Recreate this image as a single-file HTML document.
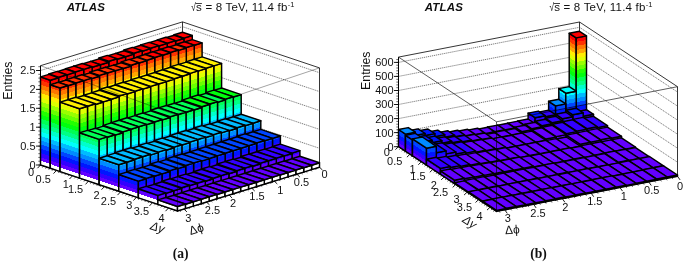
<!DOCTYPE html>
<html><head><meta charset="utf-8"><title>ATLAS lego plots</title>
<style>html,body{margin:0;padding:0;background:#fff}svg{display:block}</style></head>
<body>
<svg width="685" height="262" viewBox="0 0 685 262" font-family="'Liberation Sans', Arial, sans-serif">
<rect width="685" height="262" fill="#fff"/>
<defs><filter id="soft" x="-2%" y="-2%" width="104%" height="104%"><feGaussianBlur stdDeviation="0.45"/></filter></defs>
<g stroke="#111" stroke-width="0.85" fill="none">
<line x1="40.5" y1="65.7" x2="182.5" y2="21.9" />
<line x1="182.5" y1="21.9" x2="319.5" y2="67.9" />
<line x1="182.5" y1="21.9" x2="182.5" y2="121.2" />
<line x1="319.5" y1="67.9" x2="319.5" y2="167.2" />
<line x1="40.5" y1="165.0" x2="182.5" y2="121.2" />
<line x1="182.5" y1="121.2" x2="319.5" y2="167.2" />
</g>
<g stroke="#444" stroke-width="0.7" stroke-dasharray="1.2 0.8" fill="none">
<line x1="40.5" y1="146.1" x2="182.5" y2="102.3" />
<line x1="182.5" y1="102.3" x2="319.5" y2="148.3" />
<line x1="40.5" y1="127.2" x2="182.5" y2="83.4" />
<line x1="182.5" y1="83.4" x2="319.5" y2="129.4" />
<line x1="40.5" y1="108.3" x2="182.5" y2="64.5" />
<line x1="182.5" y1="64.5" x2="319.5" y2="110.5" />
<line x1="40.5" y1="89.4" x2="182.5" y2="45.6" />
<line x1="182.5" y1="45.6" x2="319.5" y2="91.6" />
<line x1="40.5" y1="70.5" x2="182.5" y2="26.7" />
<line x1="182.5" y1="26.7" x2="319.5" y2="72.7" />
</g>
<defs><linearGradient id="lbase" gradientUnits="userSpaceOnUse"><stop offset="0.0000" stop-color="#ffffff"/><stop offset="0.0393" stop-color="#ffffff"/><stop offset="0.0393" stop-color="#6300ff"/><stop offset="0.0719" stop-color="#6300ff"/><stop offset="0.0719" stop-color="#3300ff"/><stop offset="0.1120" stop-color="#3300ff"/><stop offset="0.1120" stop-color="#0014ff"/><stop offset="0.1521" stop-color="#0014ff"/><stop offset="0.1521" stop-color="#0044ff"/><stop offset="0.1921" stop-color="#0044ff"/><stop offset="0.1921" stop-color="#008bff"/><stop offset="0.2322" stop-color="#008bff"/><stop offset="0.2322" stop-color="#00bbff"/><stop offset="0.2723" stop-color="#00bbff"/><stop offset="0.2723" stop-color="#00fffc"/><stop offset="0.3124" stop-color="#00fffc"/><stop offset="0.3124" stop-color="#00ffcc"/><stop offset="0.3524" stop-color="#00ffcc"/><stop offset="0.3524" stop-color="#00ff85"/><stop offset="0.3925" stop-color="#00ff85"/><stop offset="0.3925" stop-color="#00ff55"/><stop offset="0.4326" stop-color="#00ff55"/><stop offset="0.4326" stop-color="#00ff0e"/><stop offset="0.4727" stop-color="#00ff0e"/><stop offset="0.4727" stop-color="#22ff00"/><stop offset="0.5127" stop-color="#22ff00"/><stop offset="0.5127" stop-color="#69ff00"/><stop offset="0.5528" stop-color="#69ff00"/><stop offset="0.5528" stop-color="#99ff00"/><stop offset="0.5929" stop-color="#99ff00"/><stop offset="0.5929" stop-color="#e0ff00"/><stop offset="0.6330" stop-color="#e0ff00"/><stop offset="0.6330" stop-color="#ffee00"/><stop offset="0.6730" stop-color="#ffee00"/><stop offset="0.6730" stop-color="#ffa700"/><stop offset="0.7131" stop-color="#ffa700"/><stop offset="0.7131" stop-color="#ff7700"/><stop offset="0.7532" stop-color="#ff7700"/><stop offset="0.7532" stop-color="#ff3000"/><stop offset="0.7933" stop-color="#ff3000"/><stop offset="0.7933" stop-color="#ff0000"/><stop offset="1.0000" stop-color="#ff0000"/></linearGradient>
<linearGradient id="lb0" href="#lbase" x1="40.50" y1="165.00" x2="72.73" y2="69.02"/>
<linearGradient id="lb1" href="#lbase" x1="48.85" y1="162.42" x2="81.08" y2="66.44"/>
<linearGradient id="lb2" href="#lbase" x1="57.21" y1="159.85" x2="89.43" y2="63.87"/>
<linearGradient id="lb3" href="#lbase" x1="65.56" y1="157.27" x2="97.79" y2="61.29"/>
<linearGradient id="lb4" href="#lbase" x1="73.91" y1="154.69" x2="106.14" y2="58.71"/>
<linearGradient id="lb5" href="#lbase" x1="82.26" y1="152.12" x2="114.49" y2="56.14"/>
<linearGradient id="lb6" href="#lbase" x1="90.62" y1="149.54" x2="122.84" y2="53.56"/>
<linearGradient id="lb7" href="#lbase" x1="98.97" y1="146.96" x2="131.20" y2="50.99"/>
<linearGradient id="lb8" href="#lbase" x1="107.32" y1="144.39" x2="139.55" y2="48.41"/>
<linearGradient id="lb9" href="#lbase" x1="115.68" y1="141.81" x2="147.90" y2="45.83"/>
<linearGradient id="lb10" href="#lbase" x1="124.03" y1="139.24" x2="156.26" y2="43.26"/>
<linearGradient id="lb11" href="#lbase" x1="132.38" y1="136.66" x2="164.61" y2="40.68"/>
<linearGradient id="lb12" href="#lbase" x1="140.74" y1="134.08" x2="172.96" y2="38.10"/>
<linearGradient id="lb13" href="#lbase" x1="149.09" y1="131.51" x2="181.31" y2="35.53"/>
<linearGradient id="lb14" href="#lbase" x1="157.44" y1="128.93" x2="189.67" y2="32.95"/>
<linearGradient id="lb15" href="#lbase" x1="165.79" y1="126.35" x2="198.02" y2="30.37"/>
<linearGradient id="lb16" href="#lbase" x1="174.15" y1="123.78" x2="206.37" y2="27.80"/>
<linearGradient id="lb17" href="#lbase" x1="48.39" y1="162.57" x2="80.62" y2="66.59"/>
<linearGradient id="lb18" href="#lbase" x1="56.28" y1="160.13" x2="88.50" y2="64.15"/>
<linearGradient id="lb19" href="#lbase" x1="64.17" y1="157.70" x2="96.39" y2="61.72"/>
<linearGradient id="lb20" href="#lbase" x1="72.06" y1="155.27" x2="104.28" y2="59.29"/>
<linearGradient id="lb21" href="#lbase" x1="79.94" y1="152.83" x2="112.17" y2="56.85"/>
<linearGradient id="lb22" href="#lbase" x1="87.83" y1="150.40" x2="120.06" y2="54.42"/>
<linearGradient id="lb23" href="#lbase" x1="95.72" y1="147.97" x2="127.95" y2="51.99"/>
<linearGradient id="lb24" href="#lbase" x1="103.61" y1="145.53" x2="135.84" y2="49.55"/>
<linearGradient id="lb25" href="#lbase" x1="111.50" y1="143.10" x2="143.73" y2="47.12"/>
<linearGradient id="lb26" href="#lbase" x1="119.39" y1="140.67" x2="151.62" y2="44.69"/>
<linearGradient id="lb27" href="#lbase" x1="127.28" y1="138.23" x2="159.50" y2="42.25"/>
<linearGradient id="lb28" href="#lbase" x1="135.17" y1="135.80" x2="167.39" y2="39.82"/>
<linearGradient id="lb29" href="#lbase" x1="143.06" y1="133.37" x2="175.28" y2="37.39"/>
<linearGradient id="lb30" href="#lbase" x1="150.94" y1="130.93" x2="183.17" y2="34.95"/>
<linearGradient id="lb31" href="#lbase" x1="158.83" y1="128.50" x2="191.06" y2="32.52"/>
<linearGradient id="lb32" href="#lbase" x1="166.72" y1="126.07" x2="198.95" y2="30.09"/>
<linearGradient id="lb33" href="#lbase" x1="174.61" y1="123.63" x2="206.84" y2="27.65"/>
<linearGradient id="la1" href="#lbase" x1="50.29" y1="168.29" x2="20.21" y2="70.76"/>
<linearGradient id="la2" href="#lbase" x1="60.07" y1="171.57" x2="29.99" y2="74.05"/>
<linearGradient id="la3" href="#lbase" x1="79.64" y1="178.14" x2="49.56" y2="80.62"/>
<linearGradient id="la4" href="#lbase" x1="99.21" y1="184.71" x2="69.13" y2="87.19"/>
<linearGradient id="la5" href="#lbase" x1="118.79" y1="191.29" x2="88.71" y2="93.76"/>
<linearGradient id="la6" href="#lbase" x1="138.36" y1="197.86" x2="108.28" y2="100.34"/>
<linearGradient id="la7" href="#lbase" x1="157.93" y1="204.43" x2="127.85" y2="106.91"/>
<linearGradient id="la8" href="#lbase" x1="177.50" y1="211.00" x2="147.42" y2="113.48"/>
</defs>
<g stroke="#000" stroke-width="1.45" stroke-linejoin="round" filter="url(#soft)">
<polygon fill="url(#lb16)" points="174.1,123.8 183.9,127.1 183.9,38.1 174.1,34.8"/>
<polygon fill="url(#la1)" points="183.9,127.1 192.3,124.5 192.3,35.5 183.9,38.1"/>
<polygon fill="#ff0000" points="174.1,34.8 183.9,38.1 192.3,35.5 182.5,32.2"/>
<polygon fill="url(#lb15)" points="165.8,126.4 175.6,129.6 175.6,41.0 165.8,37.8"/>
<polygon fill="url(#la1)" points="175.6,129.6 183.9,127.1 183.9,38.5 175.6,41.0"/>
<polygon fill="#ff0000" points="165.8,37.8 175.6,41.0 183.9,38.5 174.1,35.2"/>
<polygon fill="url(#lb14)" points="157.4,128.9 167.2,132.2 167.2,43.2 157.4,39.9"/>
<polygon fill="url(#la1)" points="167.2,132.2 175.6,129.6 175.6,40.6 167.2,43.2"/>
<polygon fill="#ff0000" points="157.4,39.9 167.2,43.2 175.6,40.6 165.8,37.3"/>
<polygon fill="url(#lb13)" points="149.1,131.5 158.9,134.8 158.9,46.0 149.1,42.7"/>
<polygon fill="url(#la1)" points="158.9,134.8 167.2,132.2 167.2,43.4 158.9,46.0"/>
<polygon fill="#ff0000" points="149.1,42.7 158.9,46.0 167.2,43.4 157.4,40.1"/>
<polygon fill="url(#lb12)" points="140.7,134.1 150.5,137.4 150.5,48.2 140.7,44.9"/>
<polygon fill="url(#la1)" points="150.5,137.4 158.9,134.8 158.9,45.6 150.5,48.2"/>
<polygon fill="#ff0000" points="140.7,44.9 150.5,48.2 158.9,45.6 149.1,42.4"/>
<polygon fill="url(#lb11)" points="132.4,136.7 142.2,139.9 142.2,51.2 132.4,47.9"/>
<polygon fill="url(#la1)" points="142.2,139.9 150.5,137.4 150.5,48.6 142.2,51.2"/>
<polygon fill="#ff0000" points="132.4,47.9 142.2,51.2 150.5,48.6 140.7,45.3"/>
<polygon fill="url(#lb10)" points="124.0,139.2 133.8,142.5 133.8,53.3 124.0,50.0"/>
<polygon fill="url(#la1)" points="133.8,142.5 142.2,139.9 142.2,50.7 133.8,53.3"/>
<polygon fill="#ff0000" points="124.0,50.0 133.8,53.3 142.2,50.7 132.4,47.4"/>
<polygon fill="url(#lb9)" points="115.7,141.8 125.5,145.1 125.5,56.7 115.7,53.4"/>
<polygon fill="url(#la1)" points="125.5,145.1 133.8,142.5 133.8,54.1 125.5,56.7"/>
<polygon fill="#ff0000" points="115.7,53.4 125.5,56.7 133.8,54.1 124.0,50.8"/>
<polygon fill="url(#lb8)" points="107.3,144.4 117.1,147.7 117.1,59.3 107.3,56.0"/>
<polygon fill="url(#la1)" points="117.1,147.7 125.5,145.1 125.5,56.7 117.1,59.3"/>
<polygon fill="#ff0000" points="107.3,56.0 117.1,59.3 125.5,56.7 115.7,53.4"/>
<polygon fill="url(#lb7)" points="99.0,147.0 108.8,150.3 108.8,61.3 99.0,58.0"/>
<polygon fill="url(#la1)" points="108.8,150.3 117.1,147.7 117.1,58.7 108.8,61.3"/>
<polygon fill="#ff0000" points="99.0,58.0 108.8,61.3 117.1,58.7 107.3,55.4"/>
<polygon fill="url(#lb6)" points="90.6,149.5 100.4,152.8 100.4,64.7 90.6,61.5"/>
<polygon fill="url(#la1)" points="100.4,152.8 108.8,150.3 108.8,62.2 100.4,64.7"/>
<polygon fill="#ff0000" points="90.6,61.5 100.4,64.7 108.8,62.2 99.0,58.9"/>
<polygon fill="url(#lb5)" points="82.3,152.1 92.1,155.4 92.1,67.3 82.3,64.0"/>
<polygon fill="url(#la1)" points="92.1,155.4 100.4,152.8 100.4,64.7 92.1,67.3"/>
<polygon fill="#ff0000" points="82.3,64.0 92.1,67.3 100.4,64.7 90.6,61.4"/>
<polygon fill="url(#lb4)" points="73.9,154.7 83.7,158.0 83.7,69.4 73.9,66.1"/>
<polygon fill="url(#la1)" points="83.7,158.0 92.1,155.4 92.1,66.8 83.7,69.4"/>
<polygon fill="#ff0000" points="73.9,66.1 83.7,69.4 92.1,66.8 82.3,63.5"/>
<polygon fill="url(#lb3)" points="65.6,157.3 75.3,160.6 75.3,72.0 65.6,68.7"/>
<polygon fill="url(#la1)" points="75.3,160.6 83.7,158.0 83.7,69.4 75.3,72.0"/>
<polygon fill="#ff0000" points="65.6,68.7 75.3,72.0 83.7,69.4 73.9,66.1"/>
<polygon fill="url(#lb2)" points="57.2,159.8 67.0,163.1 67.0,74.9 57.2,71.6"/>
<polygon fill="url(#la1)" points="67.0,163.1 75.3,160.6 75.3,72.3 67.0,74.9"/>
<polygon fill="#ff0000" points="57.2,71.6 67.0,74.9 75.3,72.3 65.6,69.0"/>
<polygon fill="url(#lb1)" points="48.9,162.4 58.6,165.7 58.6,77.3 48.9,74.0"/>
<polygon fill="url(#la1)" points="58.6,165.7 67.0,163.1 67.0,74.7 58.6,77.3"/>
<polygon fill="#ff0000" points="48.9,74.0 58.6,77.3 67.0,74.7 57.2,71.4"/>
<polygon fill="url(#lb0)" points="40.5,165.0 50.3,168.3 50.3,80.2 40.5,76.9"/>
<polygon fill="url(#la1)" points="50.3,168.3 58.6,165.7 58.6,77.7 50.3,80.2"/>
<polygon fill="#ff0000" points="40.5,76.9 50.3,80.2 58.6,77.7 48.9,74.4"/>
<polygon fill="url(#lb33)" points="184.4,126.9 194.2,130.2 194.2,45.3 184.4,42.0"/>
<polygon fill="url(#la2)" points="194.2,130.2 202.1,127.8 202.1,42.9 194.2,45.3"/>
<polygon fill="#ff0000" points="184.4,42.0 194.2,45.3 202.1,42.9 192.3,39.6"/>
<polygon fill="url(#lb32)" points="176.5,129.4 186.3,132.6 186.3,47.5 176.5,44.2"/>
<polygon fill="url(#la2)" points="186.3,132.6 194.2,130.2 194.2,45.1 186.3,47.5"/>
<polygon fill="#ff0000" points="176.5,44.2 186.3,47.5 194.2,45.1 184.4,41.8"/>
<polygon fill="url(#lb31)" points="168.6,131.8 178.4,135.1 178.4,50.4 168.6,47.1"/>
<polygon fill="url(#la2)" points="178.4,135.1 186.3,132.6 186.3,48.0 178.4,50.4"/>
<polygon fill="#ff3000" points="168.6,47.1 178.4,50.4 186.3,48.0 176.5,44.7"/>
<polygon fill="url(#lb30)" points="160.7,134.2 170.5,137.5 170.5,52.4 160.7,49.1"/>
<polygon fill="url(#la2)" points="170.5,137.5 178.4,135.1 178.4,50.0 170.5,52.4"/>
<polygon fill="#ff0000" points="160.7,49.1 170.5,52.4 178.4,50.0 168.6,46.7"/>
<polygon fill="url(#lb29)" points="152.8,136.7 162.6,139.9 162.6,55.2 152.8,51.9"/>
<polygon fill="url(#la2)" points="162.6,139.9 170.5,137.5 170.5,52.7 162.6,55.2"/>
<polygon fill="#ff0000" points="152.8,51.9 162.6,55.2 170.5,52.7 160.7,49.5"/>
<polygon fill="url(#lb28)" points="145.0,139.1 154.7,142.4 154.7,57.5 145.0,54.3"/>
<polygon fill="url(#la2)" points="154.7,142.4 162.6,139.9 162.6,55.1 154.7,57.5"/>
<polygon fill="#ff0000" points="145.0,54.3 154.7,57.5 162.6,55.1 152.8,51.8"/>
<polygon fill="url(#lb27)" points="137.1,141.5 146.8,144.8 146.8,60.2 137.1,57.0"/>
<polygon fill="url(#la2)" points="146.8,144.8 154.7,142.4 154.7,57.8 146.8,60.2"/>
<polygon fill="#ff3000" points="137.1,57.0 146.8,60.2 154.7,57.8 145.0,54.5"/>
<polygon fill="url(#lb26)" points="129.2,144.0 139.0,147.2 139.0,63.0 129.2,59.7"/>
<polygon fill="url(#la2)" points="139.0,147.2 146.8,144.8 146.8,60.6 139.0,63.0"/>
<polygon fill="#ff3000" points="129.2,59.7 139.0,63.0 146.8,60.6 137.1,57.3"/>
<polygon fill="url(#lb25)" points="121.3,146.4 131.1,149.7 131.1,65.2 121.3,61.9"/>
<polygon fill="url(#la2)" points="131.1,149.7 139.0,147.2 139.0,62.7 131.1,65.2"/>
<polygon fill="#ff3000" points="121.3,61.9 131.1,65.2 139.0,62.7 129.2,59.4"/>
<polygon fill="url(#lb24)" points="113.4,148.8 123.2,152.1 123.2,68.5 113.4,65.2"/>
<polygon fill="url(#la2)" points="123.2,152.1 131.1,149.7 131.1,66.1 123.2,68.5"/>
<polygon fill="#ff3000" points="113.4,65.2 123.2,68.5 131.1,66.1 121.3,62.8"/>
<polygon fill="url(#lb23)" points="105.5,151.3 115.3,154.5 115.3,70.8 105.5,67.5"/>
<polygon fill="url(#la2)" points="115.3,154.5 123.2,152.1 123.2,68.4 115.3,70.8"/>
<polygon fill="#ff3000" points="105.5,67.5 115.3,70.8 123.2,68.4 113.4,65.1"/>
<polygon fill="url(#lb22)" points="97.6,153.7 107.4,157.0 107.4,73.0 97.6,69.7"/>
<polygon fill="url(#la2)" points="107.4,157.0 115.3,154.5 115.3,70.6 107.4,73.0"/>
<polygon fill="#ff3000" points="97.6,69.7 107.4,73.0 115.3,70.6 105.5,67.3"/>
<polygon fill="url(#lb21)" points="89.7,156.1 99.5,159.4 99.5,75.4 89.7,72.1"/>
<polygon fill="url(#la2)" points="99.5,159.4 107.4,157.0 107.4,73.0 99.5,75.4"/>
<polygon fill="#ff3000" points="89.7,72.1 99.5,75.4 107.4,73.0 97.6,69.7"/>
<polygon fill="url(#lb20)" points="81.8,158.6 91.6,161.8 91.6,78.6 81.8,75.3"/>
<polygon fill="url(#la2)" points="91.6,161.8 99.5,159.4 99.5,76.2 91.6,78.6"/>
<polygon fill="#ff3000" points="81.8,75.3 91.6,78.6 99.5,76.2 89.7,72.9"/>
<polygon fill="url(#lb19)" points="74.0,161.0 83.7,164.3 83.7,80.6 74.0,77.3"/>
<polygon fill="url(#la2)" points="83.7,164.3 91.6,161.8 91.6,78.1 83.7,80.6"/>
<polygon fill="#ff3000" points="74.0,77.3 83.7,80.6 91.6,78.1 81.8,74.8"/>
<polygon fill="url(#lb18)" points="66.1,163.4 75.8,166.7 75.8,83.0 66.1,79.7"/>
<polygon fill="url(#la2)" points="75.8,166.7 83.7,164.3 83.7,80.6 75.8,83.0"/>
<polygon fill="#ff3000" points="66.1,79.7 75.8,83.0 83.7,80.6 74.0,77.3"/>
<polygon fill="url(#lb17)" points="58.2,165.9 68.0,169.1 68.0,85.8 58.2,82.5"/>
<polygon fill="url(#la2)" points="68.0,169.1 75.8,166.7 75.8,83.3 68.0,85.8"/>
<polygon fill="#ff3000" points="58.2,82.5 68.0,85.8 75.8,83.3 66.1,80.0"/>
<polygon fill="url(#lb0)" points="50.3,168.3 60.1,171.6 60.1,88.0 50.3,84.7"/>
<polygon fill="url(#la2)" points="60.1,171.6 68.0,169.1 68.0,85.5 60.1,88.0"/>
<polygon fill="#ff3000" points="50.3,84.7 60.1,88.0 68.0,85.5 58.2,82.2"/>
<polygon fill="url(#lb33)" points="194.2,130.2 213.8,136.8 213.8,65.9 194.2,59.3"/>
<polygon fill="url(#la3)" points="213.8,136.8 221.6,134.3 221.6,63.4 213.8,65.9"/>
<polygon fill="#ffee00" points="194.2,59.3 213.8,65.9 221.6,63.4 202.1,56.9"/>
<polygon fill="url(#lb32)" points="186.3,132.6 205.9,139.2 205.9,68.3 186.3,61.7"/>
<polygon fill="url(#la3)" points="205.9,139.2 213.8,136.8 213.8,65.9 205.9,68.3"/>
<polygon fill="#ffee00" points="186.3,61.7 205.9,68.3 213.8,65.9 194.2,59.3"/>
<polygon fill="url(#lb31)" points="178.4,135.1 198.0,141.6 198.0,71.1 178.4,64.5"/>
<polygon fill="url(#la3)" points="198.0,141.6 205.9,139.2 205.9,68.6 198.0,71.1"/>
<polygon fill="#ffee00" points="178.4,64.5 198.0,71.1 205.9,68.6 186.3,62.1"/>
<polygon fill="url(#lb30)" points="170.5,137.5 190.1,144.1 190.1,73.4 170.5,66.8"/>
<polygon fill="url(#la3)" points="190.1,144.1 198.0,141.6 198.0,70.9 190.1,73.4"/>
<polygon fill="#ffee00" points="170.5,66.8 190.1,73.4 198.0,70.9 178.4,64.4"/>
<polygon fill="url(#lb29)" points="162.6,139.9 182.2,146.5 182.2,76.2 162.6,69.7"/>
<polygon fill="url(#la3)" points="182.2,146.5 190.1,144.1 190.1,73.8 182.2,76.2"/>
<polygon fill="#ffee00" points="162.6,69.7 182.2,76.2 190.1,73.8 170.5,67.2"/>
<polygon fill="url(#lb28)" points="154.7,142.4 174.3,148.9 174.3,78.7 154.7,72.2"/>
<polygon fill="url(#la3)" points="174.3,148.9 182.2,146.5 182.2,76.3 174.3,78.7"/>
<polygon fill="#ffee00" points="154.7,72.2 174.3,78.7 182.2,76.3 162.6,69.7"/>
<polygon fill="url(#lb27)" points="146.8,144.8 166.4,151.4 166.4,81.5 146.8,74.9"/>
<polygon fill="url(#la3)" points="166.4,151.4 174.3,148.9 174.3,79.1 166.4,81.5"/>
<polygon fill="#ffee00" points="146.8,74.9 166.4,81.5 174.3,79.1 154.7,72.5"/>
<polygon fill="url(#lb26)" points="139.0,147.2 158.5,153.8 158.5,84.0 139.0,77.4"/>
<polygon fill="url(#la3)" points="158.5,153.8 166.4,151.4 166.4,81.6 158.5,84.0"/>
<polygon fill="#ffee00" points="139.0,77.4 158.5,84.0 166.4,81.6 146.8,75.0"/>
<polygon fill="url(#lb25)" points="131.1,149.7 150.6,156.2 150.6,86.4 131.1,79.8"/>
<polygon fill="url(#la3)" points="150.6,156.2 158.5,153.8 158.5,84.0 150.6,86.4"/>
<polygon fill="#ffee00" points="131.1,79.8 150.6,86.4 158.5,84.0 139.0,77.4"/>
<polygon fill="url(#lb24)" points="123.2,152.1 142.8,158.7 142.8,89.1 123.2,82.5"/>
<polygon fill="url(#la3)" points="142.8,158.7 150.6,156.2 150.6,86.7 142.8,89.1"/>
<polygon fill="#ffee00" points="123.2,82.5 142.8,89.1 150.6,86.7 131.1,80.1"/>
<polygon fill="url(#lb23)" points="115.3,154.5 134.9,161.1 134.9,91.3 115.3,84.7"/>
<polygon fill="url(#la3)" points="134.9,161.1 142.8,158.7 142.8,88.9 134.9,91.3"/>
<polygon fill="#ffee00" points="115.3,84.7 134.9,91.3 142.8,88.9 123.2,82.3"/>
<polygon fill="url(#lb22)" points="107.4,157.0 127.0,163.5 127.0,94.0 107.4,87.5"/>
<polygon fill="url(#la3)" points="127.0,163.5 134.9,161.1 134.9,91.6 127.0,94.0"/>
<polygon fill="#ffee00" points="107.4,87.5 127.0,94.0 134.9,91.6 115.3,85.0"/>
<polygon fill="url(#lb21)" points="99.5,159.4 119.1,166.0 119.1,96.0 99.5,89.5"/>
<polygon fill="url(#la3)" points="119.1,166.0 127.0,163.5 127.0,93.6 119.1,96.0"/>
<polygon fill="#ffee00" points="99.5,89.5 119.1,96.0 127.0,93.6 107.4,87.0"/>
<polygon fill="url(#lb20)" points="91.6,161.8 111.2,168.4 111.2,99.3 91.6,92.7"/>
<polygon fill="url(#la3)" points="111.2,168.4 119.1,166.0 119.1,96.9 111.2,99.3"/>
<polygon fill="#ffee00" points="91.6,92.7 111.2,99.3 119.1,96.9 99.5,90.3"/>
<polygon fill="url(#lb19)" points="83.7,164.3 103.3,170.8 103.3,101.9 83.7,95.3"/>
<polygon fill="url(#la3)" points="103.3,170.8 111.2,168.4 111.2,99.5 103.3,101.9"/>
<polygon fill="#ffee00" points="83.7,95.3 103.3,101.9 111.2,99.5 91.6,92.9"/>
<polygon fill="url(#lb18)" points="75.8,166.7 95.4,173.3 95.4,104.5 75.8,97.9"/>
<polygon fill="url(#la3)" points="95.4,173.3 103.3,170.8 103.3,102.0 95.4,104.5"/>
<polygon fill="#ffee00" points="75.8,97.9 95.4,104.5 103.3,102.0 83.7,95.5"/>
<polygon fill="url(#lb17)" points="68.0,169.1 87.5,175.7 87.5,106.2 68.0,99.6"/>
<polygon fill="url(#la3)" points="87.5,175.7 95.4,173.3 95.4,103.8 87.5,106.2"/>
<polygon fill="#ffee00" points="68.0,99.6 87.5,106.2 95.4,103.8 75.8,97.2"/>
<polygon fill="url(#lb0)" points="60.1,171.6 79.6,178.1 79.6,108.7 60.1,102.1"/>
<polygon fill="url(#la3)" points="79.6,178.1 87.5,175.7 87.5,106.2 79.6,108.7"/>
<polygon fill="#ffee00" points="60.1,102.1 79.6,108.7 87.5,106.2 68.0,99.7"/>
<polygon fill="url(#lb33)" points="213.8,136.8 233.3,143.3 233.3,97.0 213.8,90.4"/>
<polygon fill="url(#la4)" points="233.3,143.3 241.2,140.9 241.2,94.6 233.3,97.0"/>
<polygon fill="#00ff0e" points="213.8,90.4 233.3,97.0 241.2,94.6 221.6,88.0"/>
<polygon fill="url(#lb32)" points="205.9,139.2 225.4,145.8 225.4,99.1 205.9,92.6"/>
<polygon fill="url(#la4)" points="225.4,145.8 233.3,143.3 233.3,96.7 225.4,99.1"/>
<polygon fill="#00ff0e" points="205.9,92.6 225.4,99.1 233.3,96.7 213.8,90.1"/>
<polygon fill="url(#lb31)" points="198.0,141.6 217.5,148.2 217.5,102.4 198.0,95.8"/>
<polygon fill="url(#la4)" points="217.5,148.2 225.4,145.8 225.4,99.9 217.5,102.4"/>
<polygon fill="#00ff55" points="198.0,95.8 217.5,102.4 225.4,99.9 205.9,93.4"/>
<polygon fill="url(#lb30)" points="190.1,144.1 209.7,150.6 209.7,104.0 190.1,97.4"/>
<polygon fill="url(#la4)" points="209.7,150.6 217.5,148.2 217.5,101.6 209.7,104.0"/>
<polygon fill="#00ff0e" points="190.1,97.4 209.7,104.0 217.5,101.6 198.0,95.0"/>
<polygon fill="url(#lb29)" points="182.2,146.5 201.8,153.1 201.8,106.7 182.2,100.1"/>
<polygon fill="url(#la4)" points="201.8,153.1 209.7,150.6 209.7,104.2 201.8,106.7"/>
<polygon fill="#00ff0e" points="182.2,100.1 201.8,106.7 209.7,104.2 190.1,97.6"/>
<polygon fill="url(#lb28)" points="174.3,148.9 193.9,155.5 193.9,110.0 174.3,103.4"/>
<polygon fill="url(#la4)" points="193.9,155.5 201.8,153.1 201.8,107.5 193.9,110.0"/>
<polygon fill="#00ff55" points="174.3,103.4 193.9,110.0 201.8,107.5 182.2,101.0"/>
<polygon fill="url(#lb27)" points="166.4,151.4 186.0,157.9 186.0,112.3 166.4,105.7"/>
<polygon fill="url(#la4)" points="186.0,157.9 193.9,155.5 193.9,109.8 186.0,112.3"/>
<polygon fill="#00ff55" points="166.4,105.7 186.0,112.3 193.9,109.8 174.3,103.3"/>
<polygon fill="url(#lb26)" points="158.5,153.8 178.1,160.4 178.1,114.5 158.5,107.9"/>
<polygon fill="url(#la4)" points="178.1,160.4 186.0,157.9 186.0,112.1 178.1,114.5"/>
<polygon fill="#00ff55" points="158.5,107.9 178.1,114.5 186.0,112.1 166.4,105.5"/>
<polygon fill="url(#lb25)" points="150.6,156.2 170.2,162.8 170.2,116.8 150.6,110.2"/>
<polygon fill="url(#la4)" points="170.2,162.8 178.1,160.4 178.1,114.4 170.2,116.8"/>
<polygon fill="#00ff55" points="150.6,110.2 170.2,116.8 178.1,114.4 158.5,107.8"/>
<polygon fill="url(#lb24)" points="142.8,158.7 162.3,165.2 162.3,119.9 142.8,113.4"/>
<polygon fill="url(#la4)" points="162.3,165.2 170.2,162.8 170.2,117.5 162.3,119.9"/>
<polygon fill="#00ff55" points="142.8,113.4 162.3,119.9 170.2,117.5 150.6,110.9"/>
<polygon fill="url(#lb23)" points="134.9,161.1 154.4,167.7 154.4,122.0 134.9,115.4"/>
<polygon fill="url(#la4)" points="154.4,167.7 162.3,165.2 162.3,119.5 154.4,122.0"/>
<polygon fill="#00ff55" points="134.9,115.4 154.4,122.0 162.3,119.5 142.8,113.0"/>
<polygon fill="url(#lb22)" points="127.0,163.5 146.5,170.1 146.5,124.6 127.0,118.1"/>
<polygon fill="url(#la4)" points="146.5,170.1 154.4,167.7 154.4,122.2 146.5,124.6"/>
<polygon fill="#00ff55" points="127.0,118.1 146.5,124.6 154.4,122.2 134.9,115.6"/>
<polygon fill="url(#lb21)" points="119.1,166.0 138.7,172.5 138.7,126.8 119.1,120.3"/>
<polygon fill="url(#la4)" points="138.7,172.5 146.5,170.1 146.5,124.4 138.7,126.8"/>
<polygon fill="#00ff55" points="119.1,120.3 138.7,126.8 146.5,124.4 127.0,117.8"/>
<polygon fill="url(#lb20)" points="111.2,168.4 130.8,175.0 130.8,129.3 111.2,122.7"/>
<polygon fill="url(#la4)" points="130.8,175.0 138.7,172.5 138.7,126.9 130.8,129.3"/>
<polygon fill="#00ff55" points="111.2,122.7 130.8,129.3 138.7,126.9 119.1,120.3"/>
<polygon fill="url(#lb19)" points="103.3,170.8 122.9,177.4 122.9,131.9 103.3,125.4"/>
<polygon fill="url(#la4)" points="122.9,177.4 130.8,175.0 130.8,129.5 122.9,131.9"/>
<polygon fill="#00ff55" points="103.3,125.4 122.9,131.9 130.8,129.5 111.2,122.9"/>
<polygon fill="url(#lb18)" points="95.4,173.3 115.0,179.8 115.0,135.1 95.4,128.6"/>
<polygon fill="url(#la4)" points="115.0,179.8 122.9,177.4 122.9,132.7 115.0,135.1"/>
<polygon fill="#00ff55" points="95.4,128.6 115.0,135.1 122.9,132.7 103.3,126.1"/>
<polygon fill="url(#lb17)" points="87.5,175.7 107.1,182.3 107.1,137.2 87.5,130.6"/>
<polygon fill="url(#la4)" points="107.1,182.3 115.0,179.8 115.0,134.7 107.1,137.2"/>
<polygon fill="#00ff55" points="87.5,130.6 107.1,137.2 115.0,134.7 95.4,128.2"/>
<polygon fill="url(#lb0)" points="79.6,178.1 99.2,184.7 99.2,139.4 79.6,132.8"/>
<polygon fill="url(#la4)" points="99.2,184.7 107.1,182.3 107.1,136.9 99.2,139.4"/>
<polygon fill="#00ff55" points="79.6,132.8 99.2,139.4 107.1,136.9 87.5,130.4"/>
<polygon fill="url(#lb33)" points="233.3,143.3 252.9,149.9 252.9,123.2 233.3,116.7"/>
<polygon fill="url(#la5)" points="252.9,149.9 260.8,147.5 260.8,120.8 252.9,123.2"/>
<polygon fill="#00bbff" points="233.3,116.7 252.9,123.2 260.8,120.8 241.2,114.2"/>
<polygon fill="url(#lb32)" points="225.4,145.8 245.0,152.4 245.0,125.8 225.4,119.3"/>
<polygon fill="url(#la5)" points="245.0,152.4 252.9,149.9 252.9,123.4 245.0,125.8"/>
<polygon fill="#00bbff" points="225.4,119.3 245.0,125.8 252.9,123.4 233.3,116.8"/>
<polygon fill="url(#lb31)" points="217.5,148.2 237.1,154.8 237.1,127.7 217.5,121.1"/>
<polygon fill="url(#la5)" points="237.1,154.8 245.0,152.4 245.0,125.3 237.1,127.7"/>
<polygon fill="#00bbff" points="217.5,121.1 237.1,127.7 245.0,125.3 225.4,118.7"/>
<polygon fill="url(#lb30)" points="209.7,150.6 229.2,157.2 229.2,130.7 209.7,124.1"/>
<polygon fill="url(#la5)" points="229.2,157.2 237.1,154.8 237.1,128.2 229.2,130.7"/>
<polygon fill="#00bbff" points="209.7,124.1 229.2,130.7 237.1,128.2 217.5,121.7"/>
<polygon fill="url(#lb29)" points="201.8,153.1 221.3,159.7 221.3,132.9 201.8,126.3"/>
<polygon fill="url(#la5)" points="221.3,159.7 229.2,157.2 229.2,130.4 221.3,132.9"/>
<polygon fill="#00bbff" points="201.8,126.3 221.3,132.9 229.2,130.4 209.7,123.9"/>
<polygon fill="url(#lb28)" points="193.9,155.5 213.5,162.1 213.5,134.6 193.9,128.0"/>
<polygon fill="url(#la5)" points="213.5,162.1 221.3,159.7 221.3,132.2 213.5,134.6"/>
<polygon fill="#00bbff" points="193.9,128.0 213.5,134.6 221.3,132.2 201.8,125.6"/>
<polygon fill="url(#lb27)" points="186.0,157.9 205.6,164.5 205.6,137.5 186.0,131.0"/>
<polygon fill="url(#la5)" points="205.6,164.5 213.5,162.1 213.5,135.1 205.6,137.5"/>
<polygon fill="#00bbff" points="186.0,131.0 205.6,137.5 213.5,135.1 193.9,128.5"/>
<polygon fill="url(#lb26)" points="178.1,160.4 197.7,167.0 197.7,139.5 178.1,132.9"/>
<polygon fill="url(#la5)" points="197.7,167.0 205.6,164.5 205.6,137.1 197.7,139.5"/>
<polygon fill="#00bbff" points="178.1,132.9 197.7,139.5 205.6,137.1 186.0,130.5"/>
<polygon fill="url(#lb25)" points="170.2,162.8 189.8,169.4 189.8,142.1 170.2,135.5"/>
<polygon fill="url(#la5)" points="189.8,169.4 197.7,167.0 197.7,139.6 189.8,142.1"/>
<polygon fill="#00bbff" points="170.2,135.5 189.8,142.1 197.7,139.6 178.1,133.0"/>
<polygon fill="url(#lb24)" points="162.3,165.2 181.9,171.8 181.9,145.0 162.3,138.5"/>
<polygon fill="url(#la5)" points="181.9,171.8 189.8,169.4 189.8,142.6 181.9,145.0"/>
<polygon fill="#00bbff" points="162.3,138.5 181.9,145.0 189.8,142.6 170.2,136.0"/>
<polygon fill="url(#lb23)" points="154.4,167.7 174.0,174.3 174.0,147.1 154.4,140.5"/>
<polygon fill="url(#la5)" points="174.0,174.3 181.9,171.8 181.9,144.7 174.0,147.1"/>
<polygon fill="#00bbff" points="154.4,140.5 174.0,147.1 181.9,144.7 162.3,138.1"/>
<polygon fill="url(#lb22)" points="146.5,170.1 166.1,176.7 166.1,150.2 146.5,143.6"/>
<polygon fill="url(#la5)" points="166.1,176.7 174.0,174.3 174.0,147.8 166.1,150.2"/>
<polygon fill="#00bbff" points="146.5,143.6 166.1,150.2 174.0,147.8 154.4,141.2"/>
<polygon fill="url(#lb21)" points="138.7,172.5 158.2,179.1 158.2,152.1 138.7,145.5"/>
<polygon fill="url(#la5)" points="158.2,179.1 166.1,176.7 166.1,149.6 158.2,152.1"/>
<polygon fill="#00bbff" points="138.7,145.5 158.2,152.1 166.1,149.6 146.5,143.1"/>
<polygon fill="url(#lb20)" points="130.8,175.0 150.3,181.6 150.3,155.1 130.8,148.5"/>
<polygon fill="url(#la5)" points="150.3,181.6 158.2,179.1 158.2,152.6 150.3,155.1"/>
<polygon fill="#00bbff" points="130.8,148.5 150.3,155.1 158.2,152.6 138.7,146.1"/>
<polygon fill="url(#lb19)" points="122.9,177.4 142.5,184.0 142.5,156.7 122.9,150.1"/>
<polygon fill="url(#la5)" points="142.5,184.0 150.3,181.6 150.3,154.3 142.5,156.7"/>
<polygon fill="#00bbff" points="122.9,150.1 142.5,156.7 150.3,154.3 130.8,147.7"/>
<polygon fill="url(#lb18)" points="115.0,179.8 134.6,186.4 134.6,159.2 115.0,152.7"/>
<polygon fill="url(#la5)" points="134.6,186.4 142.5,184.0 142.5,156.8 134.6,159.2"/>
<polygon fill="#00bbff" points="115.0,152.7 134.6,159.2 142.5,156.8 122.9,150.2"/>
<polygon fill="url(#lb17)" points="107.1,182.3 126.7,188.9 126.7,162.2 107.1,155.6"/>
<polygon fill="url(#la5)" points="126.7,188.9 134.6,186.4 134.6,159.7 126.7,162.2"/>
<polygon fill="#00bbff" points="107.1,155.6 126.7,162.2 134.6,159.7 115.0,153.1"/>
<polygon fill="url(#lb0)" points="99.2,184.7 118.8,191.3 118.8,164.7 99.2,158.2"/>
<polygon fill="url(#la5)" points="118.8,191.3 126.7,188.9 126.7,162.3 118.8,164.7"/>
<polygon fill="#00bbff" points="99.2,158.2 118.8,164.7 126.7,162.3 107.1,155.7"/>
<polygon fill="url(#lb33)" points="252.9,149.9 272.5,156.5 272.5,138.4 252.9,131.8"/>
<polygon fill="url(#la6)" points="272.5,156.5 280.4,154.1 280.4,136.0 272.5,138.4"/>
<polygon fill="#0044ff" points="252.9,131.8 272.5,138.4 280.4,136.0 260.8,129.4"/>
<polygon fill="url(#lb32)" points="245.0,152.4 264.6,158.9 264.6,140.8 245.0,134.3"/>
<polygon fill="url(#la6)" points="264.6,158.9 272.5,156.5 272.5,138.4 264.6,140.8"/>
<polygon fill="#0044ff" points="245.0,134.3 264.6,140.8 272.5,138.4 252.9,131.8"/>
<polygon fill="url(#lb31)" points="237.1,154.8 256.7,161.4 256.7,142.9 237.1,136.3"/>
<polygon fill="url(#la6)" points="256.7,161.4 264.6,158.9 264.6,140.5 256.7,142.9"/>
<polygon fill="#0044ff" points="237.1,136.3 256.7,142.9 264.6,140.5 245.0,133.9"/>
<polygon fill="url(#lb30)" points="229.2,157.2 248.8,163.8 248.8,145.7 229.2,139.2"/>
<polygon fill="url(#la6)" points="248.8,163.8 256.7,161.4 256.7,143.3 248.8,145.7"/>
<polygon fill="#0044ff" points="229.2,139.2 248.8,145.7 256.7,143.3 237.1,136.7"/>
<polygon fill="url(#lb29)" points="221.3,159.7 240.9,166.2 240.9,148.3 221.3,141.7"/>
<polygon fill="url(#la6)" points="240.9,166.2 248.8,163.8 248.8,145.9 240.9,148.3"/>
<polygon fill="#0044ff" points="221.3,141.7 240.9,148.3 248.8,145.9 229.2,139.3"/>
<polygon fill="url(#lb28)" points="213.5,162.1 233.0,168.7 233.0,150.8 213.5,144.2"/>
<polygon fill="url(#la6)" points="233.0,168.7 240.9,166.2 240.9,148.4 233.0,150.8"/>
<polygon fill="#0044ff" points="213.5,144.2 233.0,150.8 240.9,148.4 221.3,141.8"/>
<polygon fill="url(#lb27)" points="205.6,164.5 225.1,171.1 225.1,153.3 205.6,146.7"/>
<polygon fill="url(#la6)" points="225.1,171.1 233.0,168.7 233.0,150.8 225.1,153.3"/>
<polygon fill="#0044ff" points="205.6,146.7 225.1,153.3 233.0,150.8 213.5,144.2"/>
<polygon fill="url(#lb26)" points="197.7,167.0 217.2,173.5 217.2,155.9 197.7,149.3"/>
<polygon fill="url(#la6)" points="217.2,173.5 225.1,171.1 225.1,153.5 217.2,155.9"/>
<polygon fill="#0044ff" points="197.7,149.3 217.2,155.9 225.1,153.5 205.6,146.9"/>
<polygon fill="url(#lb25)" points="189.8,169.4 209.4,176.0 209.4,158.5 189.8,151.9"/>
<polygon fill="url(#la6)" points="209.4,176.0 217.2,173.5 217.2,156.0 209.4,158.5"/>
<polygon fill="#0044ff" points="189.8,151.9 209.4,158.5 217.2,156.0 197.7,149.5"/>
<polygon fill="url(#lb24)" points="181.9,171.8 201.5,178.4 201.5,161.1 181.9,154.5"/>
<polygon fill="url(#la6)" points="201.5,178.4 209.4,176.0 209.4,158.6 201.5,161.1"/>
<polygon fill="#0044ff" points="181.9,154.5 201.5,161.1 209.4,158.6 189.8,152.0"/>
<polygon fill="url(#lb23)" points="174.0,174.3 193.6,180.8 193.6,163.0 174.0,156.5"/>
<polygon fill="url(#la6)" points="193.6,180.8 201.5,178.4 201.5,160.6 193.6,163.0"/>
<polygon fill="#0044ff" points="174.0,156.5 193.6,163.0 201.5,160.6 181.9,154.0"/>
<polygon fill="url(#lb22)" points="166.1,176.7 185.7,183.3 185.7,165.5 166.1,158.9"/>
<polygon fill="url(#la6)" points="185.7,183.3 193.6,180.8 193.6,163.1 185.7,165.5"/>
<polygon fill="#0044ff" points="166.1,158.9 185.7,165.5 193.6,163.1 174.0,156.5"/>
<polygon fill="url(#lb21)" points="158.2,179.1 177.8,185.7 177.8,168.6 158.2,162.1"/>
<polygon fill="url(#la6)" points="177.8,185.7 185.7,183.3 185.7,166.2 177.8,168.6"/>
<polygon fill="#0044ff" points="158.2,162.1 177.8,168.6 185.7,166.2 166.1,159.6"/>
<polygon fill="url(#lb20)" points="150.3,181.6 169.9,188.1 169.9,170.6 150.3,164.0"/>
<polygon fill="url(#la6)" points="169.9,188.1 177.8,185.7 177.8,168.2 169.9,170.6"/>
<polygon fill="#0044ff" points="150.3,164.0 169.9,170.6 177.8,168.2 158.2,161.6"/>
<polygon fill="url(#lb19)" points="142.5,184.0 162.0,190.6 162.0,173.9 142.5,167.4"/>
<polygon fill="url(#la6)" points="162.0,190.6 169.9,188.1 169.9,171.5 162.0,173.9"/>
<polygon fill="#0044ff" points="142.5,167.4 162.0,173.9 169.9,171.5 150.3,164.9"/>
<polygon fill="url(#lb18)" points="134.6,186.4 154.1,193.0 154.1,176.3 134.6,169.8"/>
<polygon fill="url(#la6)" points="154.1,193.0 162.0,190.6 162.0,173.9 154.1,176.3"/>
<polygon fill="#0044ff" points="134.6,169.8 154.1,176.3 162.0,173.9 142.5,167.3"/>
<polygon fill="url(#lb17)" points="126.7,188.9 146.2,195.4 146.2,178.4 126.7,171.8"/>
<polygon fill="url(#la6)" points="146.2,195.4 154.1,193.0 154.1,176.0 146.2,178.4"/>
<polygon fill="#0044ff" points="126.7,171.8 146.2,178.4 154.1,176.0 134.6,169.4"/>
<polygon fill="url(#lb0)" points="118.8,191.3 138.4,197.9 138.4,181.1 118.8,174.5"/>
<polygon fill="url(#la6)" points="138.4,197.9 146.2,195.4 146.2,178.7 138.4,181.1"/>
<polygon fill="#0044ff" points="118.8,174.5 138.4,181.1 146.2,178.7 126.7,172.1"/>
<polygon fill="url(#lb33)" points="272.5,156.5 292.0,163.1 292.0,153.1 272.5,146.5"/>
<polygon fill="url(#la7)" points="292.0,163.1 299.9,160.6 299.9,150.6 292.0,153.1"/>
<polygon fill="#3300ff" points="272.5,146.5 292.0,153.1 299.9,150.6 280.4,144.1"/>
<polygon fill="url(#lb32)" points="264.6,158.9 284.2,165.5 284.2,155.9 264.6,149.4"/>
<polygon fill="url(#la7)" points="284.2,165.5 292.0,163.1 292.0,153.5 284.2,155.9"/>
<polygon fill="#3300ff" points="264.6,149.4 284.2,155.9 292.0,153.5 272.5,146.9"/>
<polygon fill="url(#lb31)" points="256.7,161.4 276.3,167.9 276.3,158.1 256.7,151.5"/>
<polygon fill="url(#la7)" points="276.3,167.9 284.2,165.5 284.2,155.7 276.3,158.1"/>
<polygon fill="#3300ff" points="256.7,151.5 276.3,158.1 284.2,155.7 264.6,149.1"/>
<polygon fill="url(#lb30)" points="248.8,163.8 268.4,170.4 268.4,160.8 248.8,154.2"/>
<polygon fill="url(#la7)" points="268.4,170.4 276.3,167.9 276.3,158.4 268.4,160.8"/>
<polygon fill="#3300ff" points="248.8,154.2 268.4,160.8 276.3,158.4 256.7,151.8"/>
<polygon fill="url(#lb29)" points="240.9,166.2 260.5,172.8 260.5,163.1 240.9,156.5"/>
<polygon fill="url(#la7)" points="260.5,172.8 268.4,170.4 268.4,160.7 260.5,163.1"/>
<polygon fill="#3300ff" points="240.9,156.5 260.5,163.1 268.4,160.7 248.8,154.1"/>
<polygon fill="url(#lb28)" points="233.0,168.7 252.6,175.2 252.6,166.2 233.0,159.6"/>
<polygon fill="url(#la7)" points="252.6,175.2 260.5,172.8 260.5,163.7 252.6,166.2"/>
<polygon fill="#3300ff" points="233.0,159.6 252.6,166.2 260.5,163.7 240.9,157.2"/>
<polygon fill="url(#lb27)" points="225.1,171.1 244.7,177.7 244.7,168.1 225.1,161.5"/>
<polygon fill="url(#la7)" points="244.7,177.7 252.6,175.2 252.6,165.7 244.7,168.1"/>
<polygon fill="#3300ff" points="225.1,161.5 244.7,168.1 252.6,165.7 233.0,159.1"/>
<polygon fill="url(#lb26)" points="217.2,173.5 236.8,180.1 236.8,170.6 217.2,164.0"/>
<polygon fill="url(#la7)" points="236.8,180.1 244.7,177.7 244.7,168.2 236.8,170.6"/>
<polygon fill="#3300ff" points="217.2,164.0 236.8,170.6 244.7,168.2 225.1,161.6"/>
<polygon fill="url(#lb25)" points="209.4,176.0 228.9,182.5 228.9,173.7 209.4,167.1"/>
<polygon fill="url(#la7)" points="228.9,182.5 236.8,180.1 236.8,171.2 228.9,173.7"/>
<polygon fill="#3300ff" points="209.4,167.1 228.9,173.7 236.8,171.2 217.2,164.7"/>
<polygon fill="url(#lb24)" points="201.5,178.4 221.0,185.0 221.0,175.6 201.5,169.0"/>
<polygon fill="url(#la7)" points="221.0,185.0 228.9,182.5 228.9,173.2 221.0,175.6"/>
<polygon fill="#3300ff" points="201.5,169.0 221.0,175.6 228.9,173.2 209.4,166.6"/>
<polygon fill="url(#lb23)" points="193.6,180.8 213.2,187.4 213.2,178.3 193.6,171.7"/>
<polygon fill="url(#la7)" points="213.2,187.4 221.0,185.0 221.0,175.8 213.2,178.3"/>
<polygon fill="#3300ff" points="193.6,171.7 213.2,178.3 221.0,175.8 201.5,169.3"/>
<polygon fill="url(#lb22)" points="185.7,183.3 205.3,189.8 205.3,181.2 185.7,174.6"/>
<polygon fill="url(#la7)" points="205.3,189.8 213.2,187.4 213.2,178.7 205.3,181.2"/>
<polygon fill="#3300ff" points="185.7,174.6 205.3,181.2 213.2,178.7 193.6,172.2"/>
<polygon fill="url(#lb21)" points="177.8,185.7 197.4,192.3 197.4,183.1 177.8,176.5"/>
<polygon fill="url(#la7)" points="197.4,192.3 205.3,189.8 205.3,180.7 197.4,183.1"/>
<polygon fill="#3300ff" points="177.8,176.5 197.4,183.1 205.3,180.7 185.7,174.1"/>
<polygon fill="url(#lb20)" points="169.9,188.1 189.5,194.7 189.5,185.6 169.9,179.1"/>
<polygon fill="url(#la7)" points="189.5,194.7 197.4,192.3 197.4,183.2 189.5,185.6"/>
<polygon fill="#3300ff" points="169.9,179.1 189.5,185.6 197.4,183.2 177.8,176.6"/>
<polygon fill="url(#lb19)" points="162.0,190.6 181.6,197.1 181.6,187.7 162.0,181.1"/>
<polygon fill="url(#la7)" points="181.6,197.1 189.5,194.7 189.5,185.2 181.6,187.7"/>
<polygon fill="#3300ff" points="162.0,181.1 181.6,187.7 189.5,185.2 169.9,178.7"/>
<polygon fill="url(#lb18)" points="154.1,193.0 173.7,199.6 173.7,190.8 154.1,184.3"/>
<polygon fill="url(#la7)" points="173.7,199.6 181.6,197.1 181.6,188.4 173.7,190.8"/>
<polygon fill="#3300ff" points="154.1,184.3 173.7,190.8 181.6,188.4 162.0,181.8"/>
<polygon fill="url(#lb17)" points="146.2,195.4 165.8,202.0 165.8,193.4 146.2,186.8"/>
<polygon fill="url(#la7)" points="165.8,202.0 173.7,199.6 173.7,190.9 165.8,193.4"/>
<polygon fill="#3300ff" points="146.2,186.8 165.8,193.4 173.7,190.9 154.1,184.4"/>
<polygon fill="url(#lb0)" points="138.4,197.9 157.9,204.4 157.9,195.4 138.4,188.8"/>
<polygon fill="url(#la7)" points="157.9,204.4 165.8,202.0 165.8,192.9 157.9,195.4"/>
<polygon fill="#3300ff" points="138.4,188.8 157.9,195.4 165.8,192.9 146.2,186.4"/>
<polygon fill="url(#lb33)" points="292.0,163.1 311.6,169.6 311.6,165.2 292.0,158.6"/>
<polygon fill="url(#la8)" points="311.6,169.6 319.5,167.2 319.5,162.7 311.6,165.2"/>
<polygon fill="#6300ff" points="292.0,158.6 311.6,165.2 319.5,162.7 299.9,156.2"/>
<polygon fill="url(#lb32)" points="284.2,165.5 303.7,172.1 303.7,167.8 284.2,161.2"/>
<polygon fill="url(#la8)" points="303.7,172.1 311.6,169.6 311.6,165.3 303.7,167.8"/>
<polygon fill="#6300ff" points="284.2,161.2 303.7,167.8 311.6,165.3 292.0,158.8"/>
<polygon fill="url(#lb31)" points="276.3,167.9 295.8,174.5 295.8,170.0 276.3,163.4"/>
<polygon fill="url(#la8)" points="295.8,174.5 303.7,172.1 303.7,167.5 295.8,170.0"/>
<polygon fill="#6300ff" points="276.3,163.4 295.8,170.0 303.7,167.5 284.2,161.0"/>
<polygon fill="url(#lb30)" points="268.4,170.4 287.9,176.9 287.9,172.5 268.4,165.9"/>
<polygon fill="url(#la8)" points="287.9,176.9 295.8,174.5 295.8,170.1 287.9,172.5"/>
<polygon fill="#6300ff" points="268.4,165.9 287.9,172.5 295.8,170.1 276.3,163.5"/>
<polygon fill="url(#lb29)" points="260.5,172.8 280.1,179.4 280.1,175.0 260.5,168.4"/>
<polygon fill="url(#la8)" points="280.1,179.4 287.9,176.9 287.9,172.5 280.1,175.0"/>
<polygon fill="#6300ff" points="260.5,168.4 280.1,175.0 287.9,172.5 268.4,166.0"/>
<polygon fill="url(#lb28)" points="252.6,175.2 272.2,181.8 272.2,177.3 252.6,170.7"/>
<polygon fill="url(#la8)" points="272.2,181.8 280.1,179.4 280.1,174.9 272.2,177.3"/>
<polygon fill="#6300ff" points="252.6,170.7 272.2,177.3 280.1,174.9 260.5,168.3"/>
<polygon fill="url(#lb27)" points="244.7,177.7 264.3,184.2 264.3,179.8 244.7,173.3"/>
<polygon fill="url(#la8)" points="264.3,184.2 272.2,181.8 272.2,177.4 264.3,179.8"/>
<polygon fill="#6300ff" points="244.7,173.3 264.3,179.8 272.2,177.4 252.6,170.8"/>
<polygon fill="url(#lb26)" points="236.8,180.1 256.4,186.7 256.4,182.3 236.8,175.7"/>
<polygon fill="url(#la8)" points="256.4,186.7 264.3,184.2 264.3,179.8 256.4,182.3"/>
<polygon fill="#6300ff" points="236.8,175.7 256.4,182.3 264.3,179.8 244.7,173.3"/>
<polygon fill="url(#lb25)" points="228.9,182.5 248.5,189.1 248.5,184.7 228.9,178.1"/>
<polygon fill="url(#la8)" points="248.5,189.1 256.4,186.7 256.4,182.3 248.5,184.7"/>
<polygon fill="#6300ff" points="228.9,178.1 248.5,184.7 256.4,182.3 236.8,175.7"/>
<polygon fill="url(#lb24)" points="221.0,185.0 240.6,191.5 240.6,187.1 221.0,180.6"/>
<polygon fill="url(#la8)" points="240.6,191.5 248.5,189.1 248.5,184.7 240.6,187.1"/>
<polygon fill="#6300ff" points="221.0,180.6 240.6,187.1 248.5,184.7 228.9,178.1"/>
<polygon fill="url(#lb23)" points="213.2,187.4 232.7,194.0 232.7,189.5 213.2,182.9"/>
<polygon fill="url(#la8)" points="232.7,194.0 240.6,191.5 240.6,187.1 232.7,189.5"/>
<polygon fill="#6300ff" points="213.2,182.9 232.7,189.5 240.6,187.1 221.0,180.5"/>
<polygon fill="url(#lb22)" points="205.3,189.8 224.8,196.4 224.8,192.0 205.3,185.4"/>
<polygon fill="url(#la8)" points="224.8,196.4 232.7,194.0 232.7,189.5 224.8,192.0"/>
<polygon fill="#6300ff" points="205.3,185.4 224.8,192.0 232.7,189.5 213.2,183.0"/>
<polygon fill="url(#lb21)" points="197.4,192.3 216.9,198.8 216.9,194.5 197.4,187.9"/>
<polygon fill="url(#la8)" points="216.9,198.8 224.8,196.4 224.8,192.0 216.9,194.5"/>
<polygon fill="#6300ff" points="197.4,187.9 216.9,194.5 224.8,192.0 205.3,185.5"/>
<polygon fill="url(#lb20)" points="189.5,194.7 209.1,201.3 209.1,196.7 189.5,190.1"/>
<polygon fill="url(#la8)" points="209.1,201.3 216.9,198.8 216.9,194.2 209.1,196.7"/>
<polygon fill="#6300ff" points="189.5,190.1 209.1,196.7 216.9,194.2 197.4,187.7"/>
<polygon fill="url(#lb19)" points="181.6,197.1 201.2,203.7 201.2,199.2 181.6,192.6"/>
<polygon fill="url(#la8)" points="201.2,203.7 209.1,201.3 209.1,196.8 201.2,199.2"/>
<polygon fill="#6300ff" points="181.6,192.6 201.2,199.2 209.1,196.8 189.5,190.2"/>
<polygon fill="url(#lb18)" points="173.7,199.6 193.3,206.1 193.3,201.8 173.7,195.2"/>
<polygon fill="url(#la8)" points="193.3,206.1 201.2,203.7 201.2,199.4 193.3,201.8"/>
<polygon fill="#6300ff" points="173.7,195.2 193.3,201.8 201.2,199.4 181.6,192.8"/>
<polygon fill="url(#lb17)" points="165.8,202.0 185.4,208.6 185.4,204.3 165.8,197.7"/>
<polygon fill="url(#la8)" points="185.4,208.6 193.3,206.1 193.3,201.8 185.4,204.3"/>
<polygon fill="#6300ff" points="165.8,197.7 185.4,204.3 193.3,201.8 173.7,195.3"/>
<polygon fill="url(#lb0)" points="157.9,204.4 177.5,211.0 177.5,206.5 157.9,199.9"/>
<polygon fill="url(#la8)" points="177.5,211.0 185.4,208.6 185.4,204.0 177.5,206.5"/>
<polygon fill="#6300ff" points="157.9,199.9 177.5,206.5 185.4,204.0 165.8,197.5"/>
</g>
<g stroke="#000" stroke-width="0.8" stroke-opacity="0.45" fill="none">
<line x1="40.5" y1="65.7" x2="177.5" y2="115.5" />
<line x1="177.5" y1="115.5" x2="319.5" y2="67.9" />
<line x1="177.5" y1="115.5" x2="177.5" y2="211.0" />
</g>
<g stroke="#000" stroke-width="1.0" fill="none">
<line x1="40.5" y1="165.0" x2="40.5" y2="65.7" />
<line x1="40.5" y1="165.0" x2="177.5" y2="211.0" stroke-width="0.5"/>
<line x1="177.5" y1="211.0" x2="319.5" y2="167.2" stroke-width="0.5"/>
<line x1="40.5" y1="165.0" x2="38.3" y2="165.0" stroke-width="0.6"/>
<line x1="40.5" y1="161.2" x2="38.3" y2="161.2" stroke-width="0.6"/>
<line x1="40.5" y1="157.4" x2="38.3" y2="157.4" stroke-width="0.6"/>
<line x1="40.5" y1="153.7" x2="38.3" y2="153.7" stroke-width="0.6"/>
<line x1="40.5" y1="149.9" x2="38.3" y2="149.9" stroke-width="0.6"/>
<line x1="40.5" y1="146.1" x2="38.3" y2="146.1" stroke-width="0.6"/>
<line x1="40.5" y1="142.3" x2="38.3" y2="142.3" stroke-width="0.6"/>
<line x1="40.5" y1="138.5" x2="38.3" y2="138.5" stroke-width="0.6"/>
<line x1="40.5" y1="134.8" x2="38.3" y2="134.8" stroke-width="0.6"/>
<line x1="40.5" y1="131.0" x2="38.3" y2="131.0" stroke-width="0.6"/>
<line x1="40.5" y1="127.2" x2="38.3" y2="127.2" stroke-width="0.6"/>
<line x1="40.5" y1="123.4" x2="38.3" y2="123.4" stroke-width="0.6"/>
<line x1="40.5" y1="119.6" x2="38.3" y2="119.6" stroke-width="0.6"/>
<line x1="40.5" y1="115.9" x2="38.3" y2="115.9" stroke-width="0.6"/>
<line x1="40.5" y1="112.1" x2="38.3" y2="112.1" stroke-width="0.6"/>
<line x1="40.5" y1="108.3" x2="38.3" y2="108.3" stroke-width="0.6"/>
<line x1="40.5" y1="104.5" x2="38.3" y2="104.5" stroke-width="0.6"/>
<line x1="40.5" y1="100.7" x2="38.3" y2="100.7" stroke-width="0.6"/>
<line x1="40.5" y1="97.0" x2="38.3" y2="97.0" stroke-width="0.6"/>
<line x1="40.5" y1="93.2" x2="38.3" y2="93.2" stroke-width="0.6"/>
<line x1="40.5" y1="89.4" x2="38.3" y2="89.4" stroke-width="0.6"/>
<line x1="40.5" y1="85.6" x2="38.3" y2="85.6" stroke-width="0.6"/>
<line x1="40.5" y1="81.8" x2="38.3" y2="81.8" stroke-width="0.6"/>
<line x1="40.5" y1="78.1" x2="38.3" y2="78.1" stroke-width="0.6"/>
<line x1="40.5" y1="74.3" x2="38.3" y2="74.3" stroke-width="0.6"/>
<line x1="40.5" y1="70.5" x2="38.3" y2="70.5" stroke-width="0.6"/>
<line x1="40.5" y1="66.7" x2="38.3" y2="66.7" stroke-width="0.6"/>
<line x1="40.5" y1="165.0" x2="36.0" y2="165.0" stroke-width="0.9"/>
<line x1="40.5" y1="146.1" x2="36.0" y2="146.1" stroke-width="0.9"/>
<line x1="40.5" y1="127.2" x2="36.0" y2="127.2" stroke-width="0.9"/>
<line x1="40.5" y1="108.3" x2="36.0" y2="108.3" stroke-width="0.9"/>
<line x1="40.5" y1="89.4" x2="36.0" y2="89.4" stroke-width="0.9"/>
<line x1="40.5" y1="70.5" x2="36.0" y2="70.5" stroke-width="0.9"/>
<line x1="40.5" y1="165.0" x2="37.5" y2="168.2" stroke-width="0.9"/>
<line x1="43.7" y1="166.1" x2="42.3" y2="167.6" stroke-width="0.6"/>
<line x1="46.9" y1="167.1" x2="45.5" y2="168.7" stroke-width="0.6"/>
<line x1="50.1" y1="168.2" x2="48.7" y2="169.8" stroke-width="0.6"/>
<line x1="53.3" y1="169.3" x2="51.9" y2="170.8" stroke-width="0.6"/>
<line x1="56.5" y1="170.4" x2="53.5" y2="173.6" stroke-width="0.9"/>
<line x1="59.7" y1="171.4" x2="58.3" y2="173.0" stroke-width="0.6"/>
<line x1="62.9" y1="172.5" x2="61.5" y2="174.1" stroke-width="0.6"/>
<line x1="66.1" y1="173.6" x2="64.7" y2="175.1" stroke-width="0.6"/>
<line x1="69.3" y1="174.7" x2="67.9" y2="176.2" stroke-width="0.6"/>
<line x1="72.5" y1="175.7" x2="69.5" y2="179.0" stroke-width="0.9"/>
<line x1="75.7" y1="176.8" x2="74.3" y2="178.4" stroke-width="0.6"/>
<line x1="78.9" y1="177.9" x2="77.5" y2="179.4" stroke-width="0.6"/>
<line x1="82.1" y1="179.0" x2="80.7" y2="180.5" stroke-width="0.6"/>
<line x1="85.3" y1="180.0" x2="83.9" y2="181.6" stroke-width="0.6"/>
<line x1="88.5" y1="181.1" x2="85.5" y2="184.4" stroke-width="0.9"/>
<line x1="91.7" y1="182.2" x2="90.3" y2="183.7" stroke-width="0.6"/>
<line x1="94.9" y1="183.3" x2="93.5" y2="184.8" stroke-width="0.6"/>
<line x1="98.1" y1="184.3" x2="96.7" y2="185.9" stroke-width="0.6"/>
<line x1="101.3" y1="185.4" x2="99.9" y2="187.0" stroke-width="0.6"/>
<line x1="104.5" y1="186.5" x2="101.5" y2="189.7" stroke-width="0.9"/>
<line x1="107.7" y1="187.6" x2="106.3" y2="189.1" stroke-width="0.6"/>
<line x1="110.9" y1="188.6" x2="109.5" y2="190.2" stroke-width="0.6"/>
<line x1="114.1" y1="189.7" x2="112.7" y2="191.3" stroke-width="0.6"/>
<line x1="117.3" y1="190.8" x2="115.9" y2="192.3" stroke-width="0.6"/>
<line x1="120.5" y1="191.9" x2="117.5" y2="195.1" stroke-width="0.9"/>
<line x1="123.7" y1="192.9" x2="122.3" y2="194.5" stroke-width="0.6"/>
<line x1="126.9" y1="194.0" x2="125.5" y2="195.6" stroke-width="0.6"/>
<line x1="130.1" y1="195.1" x2="128.7" y2="196.6" stroke-width="0.6"/>
<line x1="133.3" y1="196.2" x2="131.9" y2="197.7" stroke-width="0.6"/>
<line x1="136.5" y1="197.2" x2="133.5" y2="200.5" stroke-width="0.9"/>
<line x1="139.7" y1="198.3" x2="138.3" y2="199.9" stroke-width="0.6"/>
<line x1="142.9" y1="199.4" x2="141.5" y2="200.9" stroke-width="0.6"/>
<line x1="146.1" y1="200.5" x2="144.7" y2="202.0" stroke-width="0.6"/>
<line x1="149.3" y1="201.5" x2="147.9" y2="203.1" stroke-width="0.6"/>
<line x1="152.5" y1="202.6" x2="149.5" y2="205.9" stroke-width="0.9"/>
<line x1="155.7" y1="203.7" x2="154.3" y2="205.2" stroke-width="0.6"/>
<line x1="158.9" y1="204.8" x2="157.5" y2="206.3" stroke-width="0.6"/>
<line x1="162.1" y1="205.8" x2="160.7" y2="207.4" stroke-width="0.6"/>
<line x1="165.3" y1="206.9" x2="163.9" y2="208.5" stroke-width="0.6"/>
<line x1="168.5" y1="208.0" x2="165.5" y2="211.2" stroke-width="0.9"/>
<line x1="171.7" y1="209.1" x2="170.3" y2="210.6" stroke-width="0.6"/>
<line x1="174.9" y1="210.1" x2="173.5" y2="211.7" stroke-width="0.6"/>
<line x1="319.5" y1="167.2" x2="322.5" y2="170.1" stroke-width="0.9"/>
<line x1="315.0" y1="168.6" x2="316.4" y2="170.0" stroke-width="0.6"/>
<line x1="310.5" y1="170.0" x2="311.9" y2="171.4" stroke-width="0.6"/>
<line x1="305.9" y1="171.4" x2="307.4" y2="172.8" stroke-width="0.6"/>
<line x1="301.4" y1="172.8" x2="302.8" y2="174.2" stroke-width="0.6"/>
<line x1="296.9" y1="174.2" x2="299.9" y2="177.1" stroke-width="0.9"/>
<line x1="292.4" y1="175.6" x2="293.8" y2="176.9" stroke-width="0.6"/>
<line x1="287.9" y1="177.0" x2="289.3" y2="178.3" stroke-width="0.6"/>
<line x1="283.3" y1="178.4" x2="284.8" y2="179.7" stroke-width="0.6"/>
<line x1="278.8" y1="179.7" x2="280.2" y2="181.1" stroke-width="0.6"/>
<line x1="274.3" y1="181.1" x2="277.3" y2="184.0" stroke-width="0.9"/>
<line x1="269.8" y1="182.5" x2="271.2" y2="183.9" stroke-width="0.6"/>
<line x1="265.3" y1="183.9" x2="266.7" y2="185.3" stroke-width="0.6"/>
<line x1="260.7" y1="185.3" x2="262.2" y2="186.7" stroke-width="0.6"/>
<line x1="256.2" y1="186.7" x2="257.6" y2="188.1" stroke-width="0.6"/>
<line x1="251.7" y1="188.1" x2="254.7" y2="191.0" stroke-width="0.9"/>
<line x1="247.2" y1="189.5" x2="248.6" y2="190.9" stroke-width="0.6"/>
<line x1="242.7" y1="190.9" x2="244.1" y2="192.3" stroke-width="0.6"/>
<line x1="238.1" y1="192.3" x2="239.6" y2="193.7" stroke-width="0.6"/>
<line x1="233.6" y1="193.7" x2="235.0" y2="195.1" stroke-width="0.6"/>
<line x1="229.1" y1="195.1" x2="232.1" y2="198.0" stroke-width="0.9"/>
<line x1="224.6" y1="196.5" x2="226.0" y2="197.9" stroke-width="0.6"/>
<line x1="220.1" y1="197.9" x2="221.5" y2="199.2" stroke-width="0.6"/>
<line x1="215.5" y1="199.3" x2="217.0" y2="200.6" stroke-width="0.6"/>
<line x1="211.0" y1="200.7" x2="212.4" y2="202.0" stroke-width="0.6"/>
<line x1="206.5" y1="202.1" x2="209.5" y2="204.9" stroke-width="0.9"/>
<line x1="202.0" y1="203.4" x2="203.4" y2="204.8" stroke-width="0.6"/>
<line x1="197.5" y1="204.8" x2="198.9" y2="206.2" stroke-width="0.6"/>
<line x1="192.9" y1="206.2" x2="194.4" y2="207.6" stroke-width="0.6"/>
<line x1="188.4" y1="207.6" x2="189.8" y2="209.0" stroke-width="0.6"/>
<line x1="183.9" y1="209.0" x2="186.9" y2="211.9" stroke-width="0.9"/>
<line x1="179.4" y1="210.4" x2="180.8" y2="211.8" stroke-width="0.6"/>
</g>
<g font-size="11" fill="#111">
<text x="35.5" y="168.9" text-anchor="end">0</text>
<text x="35.5" y="150.0" text-anchor="end">0.5</text>
<text x="35.5" y="131.1" text-anchor="end">1</text>
<text x="35.5" y="112.2" text-anchor="end">1.5</text>
<text x="35.5" y="93.3" text-anchor="end">2</text>
<text x="35.5" y="74.4" text-anchor="end">2.5</text>
<text x="34.2" y="175.5" text-anchor="end">0</text>
<text x="50.9" y="182.8" text-anchor="end">0.5</text>
<text x="68.9" y="187.8" text-anchor="end">1</text>
<text x="83.2" y="192.6" text-anchor="end">1.5</text>
<text x="99.7" y="198.9" text-anchor="end">2</text>
<text x="116.1" y="205.2" text-anchor="end">2.5</text>
<text x="132.4" y="208.9" text-anchor="end">3</text>
<text x="149.0" y="215.2" text-anchor="end">3.5</text>
<text x="164.6" y="221.5" text-anchor="end">4</text>
<text x="188.4" y="221.5" text-anchor="middle">3</text>
<text x="212.5" y="214.1" text-anchor="middle">2.5</text>
<text x="233.1" y="207.1" text-anchor="middle">2</text>
<text x="257.0" y="200.1" text-anchor="middle">1.5</text>
<text x="280.3" y="193.5" text-anchor="middle">1</text>
<text x="301.5" y="186.2" text-anchor="middle">0.5</text>
<text x="324.5" y="178.2" text-anchor="middle">0</text>
</g>
<g stroke="#111" stroke-width="0.85" fill="none">
<line x1="398.5" y1="57.1" x2="579.5" y2="22.0" />
<line x1="579.5" y1="22.0" x2="677.5" y2="86.7" />
<line x1="579.5" y1="22.0" x2="579.5" y2="111.6" />
<line x1="677.5" y1="86.7" x2="677.5" y2="176.3" />
<line x1="398.5" y1="146.7" x2="579.5" y2="111.6" />
<line x1="579.5" y1="111.6" x2="677.5" y2="176.3" />
</g>
<g stroke="#444" stroke-width="0.7" stroke-dasharray="1.2 0.8" fill="none">
<line x1="398.5" y1="132.6" x2="579.5" y2="97.5" />
<line x1="579.5" y1="97.5" x2="677.5" y2="162.2" />
<line x1="398.5" y1="118.6" x2="579.5" y2="83.5" />
<line x1="579.5" y1="83.5" x2="677.5" y2="148.2" />
<line x1="398.5" y1="104.5" x2="579.5" y2="69.4" />
<line x1="579.5" y1="69.4" x2="677.5" y2="134.2" />
<line x1="398.5" y1="90.5" x2="579.5" y2="55.4" />
<line x1="579.5" y1="55.4" x2="677.5" y2="120.1" />
<line x1="398.5" y1="76.4" x2="579.5" y2="41.3" />
<line x1="579.5" y1="41.3" x2="677.5" y2="106.1" />
<line x1="398.5" y1="62.4" x2="579.5" y2="27.3" />
<line x1="579.5" y1="27.3" x2="677.5" y2="92.0" />
</g>
<defs><linearGradient id="rbase" gradientUnits="userSpaceOnUse"><stop offset="0.0000" stop-color="#6300ff"/><stop offset="0.0417" stop-color="#6300ff"/><stop offset="0.0417" stop-color="#3300ff"/><stop offset="0.0833" stop-color="#3300ff"/><stop offset="0.0833" stop-color="#0014ff"/><stop offset="0.1250" stop-color="#0014ff"/><stop offset="0.1250" stop-color="#0044ff"/><stop offset="0.1667" stop-color="#0044ff"/><stop offset="0.1667" stop-color="#008bff"/><stop offset="0.2083" stop-color="#008bff"/><stop offset="0.2083" stop-color="#00bbff"/><stop offset="0.2500" stop-color="#00bbff"/><stop offset="0.2500" stop-color="#00fffc"/><stop offset="0.2917" stop-color="#00fffc"/><stop offset="0.2917" stop-color="#00ffcc"/><stop offset="0.3333" stop-color="#00ffcc"/><stop offset="0.3333" stop-color="#00ff85"/><stop offset="0.3750" stop-color="#00ff85"/><stop offset="0.3750" stop-color="#00ff55"/><stop offset="0.4167" stop-color="#00ff55"/><stop offset="0.4167" stop-color="#00ff0e"/><stop offset="0.4583" stop-color="#00ff0e"/><stop offset="0.4583" stop-color="#22ff00"/><stop offset="0.5000" stop-color="#22ff00"/><stop offset="0.5000" stop-color="#69ff00"/><stop offset="0.5417" stop-color="#69ff00"/><stop offset="0.5417" stop-color="#99ff00"/><stop offset="0.5833" stop-color="#99ff00"/><stop offset="0.5833" stop-color="#e0ff00"/><stop offset="0.6250" stop-color="#e0ff00"/><stop offset="0.6250" stop-color="#ffee00"/><stop offset="0.6667" stop-color="#ffee00"/><stop offset="0.6667" stop-color="#ffa700"/><stop offset="0.7083" stop-color="#ffa700"/><stop offset="0.7083" stop-color="#ff7700"/><stop offset="0.7500" stop-color="#ff7700"/><stop offset="0.7500" stop-color="#ff3000"/><stop offset="0.7917" stop-color="#ff3000"/><stop offset="0.7917" stop-color="#ff0000"/><stop offset="1.0000" stop-color="#ff0000"/></linearGradient>
<linearGradient id="rb0" href="#rbase" x1="398.50" y1="146.70" x2="442.81" y2="79.59"/>
<linearGradient id="rb1" href="#rbase" x1="408.27" y1="144.81" x2="452.58" y2="77.70"/>
<linearGradient id="rb2" href="#rbase" x1="418.07" y1="142.90" x2="462.38" y2="75.80"/>
<linearGradient id="rb3" href="#rbase" x1="427.91" y1="141.00" x2="472.21" y2="73.89"/>
<linearGradient id="rb4" href="#rbase" x1="437.78" y1="139.08" x2="482.08" y2="71.97"/>
<linearGradient id="rb5" href="#rbase" x1="447.68" y1="137.16" x2="491.99" y2="70.05"/>
<linearGradient id="rb6" href="#rbase" x1="457.61" y1="135.24" x2="501.92" y2="68.13"/>
<linearGradient id="rb7" href="#rbase" x1="467.58" y1="133.30" x2="511.89" y2="66.19"/>
<linearGradient id="rb8" href="#rbase" x1="477.59" y1="131.36" x2="521.89" y2="64.25"/>
<linearGradient id="rb9" href="#rbase" x1="487.62" y1="129.42" x2="531.93" y2="62.31"/>
<linearGradient id="rb10" href="#rbase" x1="497.69" y1="127.46" x2="542.00" y2="60.36"/>
<linearGradient id="rb11" href="#rbase" x1="507.80" y1="125.50" x2="552.10" y2="58.40"/>
<linearGradient id="rb12" href="#rbase" x1="517.94" y1="123.54" x2="562.24" y2="56.43"/>
<linearGradient id="rb13" href="#rbase" x1="528.11" y1="121.57" x2="572.41" y2="54.46"/>
<linearGradient id="rb14" href="#rbase" x1="538.32" y1="119.59" x2="582.62" y2="52.48"/>
<linearGradient id="rb15" href="#rbase" x1="548.56" y1="117.60" x2="592.87" y2="50.49"/>
<linearGradient id="rb16" href="#rbase" x1="558.84" y1="115.61" x2="603.14" y2="48.50"/>
<linearGradient id="rb17" href="#rbase" x1="569.15" y1="113.61" x2="613.46" y2="46.50"/>
<linearGradient id="ra1" href="#rbase" x1="405.50" y1="151.32" x2="387.49" y2="58.45"/>
<linearGradient id="ra2" href="#rbase" x1="412.50" y1="155.94" x2="394.49" y2="63.08"/>
<linearGradient id="ra3" href="#rbase" x1="426.50" y1="165.19" x2="408.49" y2="72.32"/>
<linearGradient id="ra4" href="#rbase" x1="440.50" y1="174.43" x2="422.49" y2="81.56"/>
<linearGradient id="ra5" href="#rbase" x1="454.50" y1="183.67" x2="436.49" y2="90.80"/>
<linearGradient id="ra6" href="#rbase" x1="468.50" y1="192.91" x2="450.49" y2="100.05"/>
<linearGradient id="ra7" href="#rbase" x1="482.50" y1="202.16" x2="464.49" y2="109.29"/>
<linearGradient id="ra8" href="#rbase" x1="496.50" y1="211.40" x2="478.49" y2="118.53"/>
</defs>
<g stroke="#000" stroke-width="1.45" stroke-linejoin="round" filter="url(#soft)">
<polygon fill="url(#rb17)" points="569.2,113.6 576.2,118.2 576.2,37.9 569.2,33.3"/>
<polygon fill="url(#ra1)" points="576.2,118.2 586.5,116.2 586.5,35.9 576.2,37.9"/>
<polygon fill="#ff0000" points="569.2,33.3 576.2,37.9 586.5,35.9 579.5,31.3"/>
<polygon fill="url(#rb16)" points="558.8,115.6 565.8,120.2 565.8,93.2 558.8,88.6"/>
<polygon fill="url(#ra1)" points="565.8,120.2 576.2,118.2 576.2,91.2 565.8,93.2"/>
<polygon fill="#00fffc" points="558.8,88.6 565.8,93.2 576.2,91.2 569.2,86.6"/>
<polygon fill="url(#rb15)" points="548.6,117.6 555.6,122.2 555.6,105.9 548.6,101.3"/>
<polygon fill="url(#ra1)" points="555.6,122.2 565.8,120.2 565.8,103.9 555.6,105.9"/>
<polygon fill="#008bff" points="548.6,101.3 555.6,105.9 565.8,103.9 558.8,99.3"/>
<polygon fill="url(#rb14)" points="538.3,119.6 545.3,124.2 545.3,116.7 538.3,112.1"/>
<polygon fill="url(#ra1)" points="545.3,124.2 555.6,122.2 555.6,114.7 545.3,116.7"/>
<polygon fill="#3300ff" points="538.3,112.1 545.3,116.7 555.6,114.7 548.6,110.1"/>
<polygon fill="url(#rb13)" points="528.1,121.6 535.1,126.2 535.1,117.7 528.1,113.1"/>
<polygon fill="url(#ra1)" points="535.1,126.2 545.3,124.2 545.3,115.7 535.1,117.7"/>
<polygon fill="#0014ff" points="528.1,113.1 535.1,117.7 545.3,115.7 538.3,111.1"/>
<polygon fill="url(#rb12)" points="517.9,123.5 524.9,128.2 524.9,125.6 517.9,120.9"/>
<polygon fill="url(#ra1)" points="524.9,128.2 535.1,126.2 535.1,123.6 524.9,125.6"/>
<polygon fill="#6300ff" points="517.9,120.9 524.9,125.6 535.1,123.6 528.1,119.0"/>
<polygon fill="url(#rb11)" points="507.8,125.5 514.8,130.1 514.8,127.7 507.8,123.1"/>
<polygon fill="url(#ra1)" points="514.8,130.1 524.9,128.2 524.9,125.8 514.8,127.7"/>
<polygon fill="#6300ff" points="507.8,123.1 514.8,127.7 524.9,125.8 517.9,121.1"/>
<polygon fill="url(#rb10)" points="497.7,127.5 504.7,132.1 504.7,129.9 497.7,125.3"/>
<polygon fill="url(#ra1)" points="504.7,132.1 514.8,130.1 514.8,127.9 504.7,129.9"/>
<polygon fill="#6300ff" points="497.7,125.3 504.7,129.9 514.8,127.9 507.8,123.3"/>
<polygon fill="url(#rb9)" points="487.6,129.4 494.6,134.0 494.6,131.6 487.6,127.0"/>
<polygon fill="url(#ra1)" points="494.6,134.0 504.7,132.1 504.7,129.7 494.6,131.6"/>
<polygon fill="#6300ff" points="487.6,127.0 494.6,131.6 504.7,129.7 497.7,125.1"/>
<polygon fill="url(#rb8)" points="477.6,131.4 484.6,136.0 484.6,133.8 477.6,129.2"/>
<polygon fill="url(#ra1)" points="484.6,136.0 494.6,134.0 494.6,131.8 484.6,133.8"/>
<polygon fill="#6300ff" points="477.6,129.2 484.6,133.8 494.6,131.8 487.6,127.2"/>
<polygon fill="url(#rb7)" points="467.6,133.3 474.6,137.9 474.6,134.7 467.6,130.1"/>
<polygon fill="url(#ra1)" points="474.6,137.9 484.6,136.0 484.6,132.8 474.6,134.7"/>
<polygon fill="#6300ff" points="467.6,130.1 474.6,134.7 484.6,132.8 477.6,128.2"/>
<polygon fill="url(#rb6)" points="457.6,135.2 464.6,139.9 464.6,135.9 457.6,131.2"/>
<polygon fill="url(#ra1)" points="464.6,139.9 474.6,137.9 474.6,133.9 464.6,135.9"/>
<polygon fill="#6300ff" points="457.6,131.2 464.6,135.9 474.6,133.9 467.6,129.3"/>
<polygon fill="url(#rb5)" points="447.7,137.2 454.7,141.8 454.7,136.8 447.7,132.2"/>
<polygon fill="url(#ra1)" points="454.7,141.8 464.6,139.9 464.6,134.9 454.7,136.8"/>
<polygon fill="#3300ff" points="447.7,132.2 454.7,136.8 464.6,134.9 457.6,130.2"/>
<polygon fill="url(#rb4)" points="437.8,139.1 444.8,143.7 444.8,137.2 437.8,132.6"/>
<polygon fill="url(#ra1)" points="444.8,143.7 454.7,141.8 454.7,135.3 444.8,137.2"/>
<polygon fill="#3300ff" points="437.8,132.6 444.8,137.2 454.7,135.3 447.7,130.7"/>
<polygon fill="url(#rb3)" points="427.9,141.0 434.9,145.6 434.9,136.6 427.9,132.0"/>
<polygon fill="url(#ra1)" points="434.9,145.6 444.8,143.7 444.8,134.7 434.9,136.6"/>
<polygon fill="#0014ff" points="427.9,132.0 434.9,136.6 444.8,134.7 437.8,130.1"/>
<polygon fill="url(#rb2)" points="418.1,142.9 425.1,147.5 425.1,135.5 418.1,130.9"/>
<polygon fill="url(#ra1)" points="425.1,147.5 434.9,145.6 434.9,133.6 425.1,135.5"/>
<polygon fill="#0014ff" points="418.1,130.9 425.1,135.5 434.9,133.6 427.9,129.0"/>
<polygon fill="url(#rb1)" points="408.3,144.8 415.3,149.4 415.3,135.4 408.3,130.8"/>
<polygon fill="url(#ra1)" points="415.3,149.4 425.1,147.5 425.1,133.5 415.3,135.4"/>
<polygon fill="#0044ff" points="408.3,130.8 415.3,135.4 425.1,133.5 418.1,128.9"/>
<polygon fill="url(#rb0)" points="398.5,146.7 405.5,151.3 405.5,134.1 398.5,129.5"/>
<polygon fill="url(#ra1)" points="405.5,151.3 415.3,149.4 415.3,132.2 405.5,134.1"/>
<polygon fill="#008bff" points="398.5,129.5 405.5,134.1 415.3,132.2 408.3,127.6"/>
<polygon fill="url(#rb17)" points="576.2,118.2 583.2,122.8 583.2,116.3 576.2,111.7"/>
<polygon fill="url(#ra2)" points="583.2,122.8 593.5,120.8 593.5,114.3 583.2,116.3"/>
<polygon fill="#3300ff" points="576.2,111.7 583.2,116.3 593.5,114.3 586.5,109.7"/>
<polygon fill="url(#rb16)" points="565.8,120.2 572.8,124.8 572.8,114.8 565.8,110.2"/>
<polygon fill="url(#ra2)" points="572.8,124.8 583.2,122.8 583.2,112.8 572.8,114.8"/>
<polygon fill="#0014ff" points="565.8,110.2 572.8,114.8 583.2,112.8 576.2,108.2"/>
<polygon fill="url(#rb15)" points="555.6,122.2 562.6,126.8 562.6,118.8 555.6,114.2"/>
<polygon fill="url(#ra2)" points="562.6,126.8 572.8,124.8 572.8,116.8 562.6,118.8"/>
<polygon fill="#3300ff" points="555.6,114.2 562.6,118.8 572.8,116.8 565.8,112.2"/>
<polygon fill="url(#rb14)" points="545.3,124.2 552.3,128.8 552.3,122.8 545.3,118.2"/>
<polygon fill="url(#ra2)" points="552.3,128.8 562.6,126.8 562.6,120.8 552.3,122.8"/>
<polygon fill="#3300ff" points="545.3,118.2 552.3,122.8 562.6,120.8 555.6,116.2"/>
<polygon fill="url(#rb13)" points="535.1,126.2 542.1,130.8 542.1,125.8 535.1,121.2"/>
<polygon fill="url(#ra2)" points="542.1,130.8 552.3,128.8 552.3,123.8 542.1,125.8"/>
<polygon fill="#3300ff" points="535.1,121.2 542.1,125.8 552.3,123.8 545.3,119.2"/>
<polygon fill="url(#rb12)" points="524.9,128.2 531.9,132.8 531.9,128.8 524.9,124.2"/>
<polygon fill="url(#ra2)" points="531.9,132.8 542.1,130.8 542.1,126.8 531.9,128.8"/>
<polygon fill="#6300ff" points="524.9,124.2 531.9,128.8 542.1,126.8 535.1,122.2"/>
<polygon fill="url(#rb11)" points="514.8,130.1 521.8,134.7 521.8,131.7 514.8,127.1"/>
<polygon fill="url(#ra2)" points="521.8,134.7 531.9,132.8 531.9,129.8 521.8,131.7"/>
<polygon fill="#6300ff" points="514.8,127.1 521.8,131.7 531.9,129.8 524.9,125.2"/>
<polygon fill="url(#rb10)" points="504.7,132.1 511.7,136.7 511.7,135.1 504.7,130.5"/>
<polygon fill="url(#ra2)" points="511.7,136.7 521.8,134.7 521.8,133.1 511.7,135.1"/>
<polygon fill="#6300ff" points="504.7,130.5 511.7,135.1 521.8,133.1 514.8,128.5"/>
<polygon fill="url(#rb9)" points="494.6,134.0 501.6,138.7 501.6,137.0 494.6,132.3"/>
<polygon fill="url(#ra2)" points="501.6,138.7 511.7,136.7 511.7,135.0 501.6,137.0"/>
<polygon fill="#6300ff" points="494.6,132.3 501.6,137.0 511.7,135.0 504.7,130.4"/>
<polygon fill="url(#rb8)" points="484.6,136.0 491.6,140.6 491.6,139.2 484.6,134.6"/>
<polygon fill="url(#ra2)" points="491.6,140.6 501.6,138.7 501.6,137.3 491.6,139.2"/>
<polygon fill="#6300ff" points="484.6,134.6 491.6,139.2 501.6,137.3 494.6,132.7"/>
<polygon fill="url(#rb7)" points="474.6,137.9 481.6,142.5 481.6,139.5 474.6,134.9"/>
<polygon fill="url(#ra2)" points="481.6,142.5 491.6,140.6 491.6,137.6 481.6,139.5"/>
<polygon fill="#6300ff" points="474.6,134.9 481.6,139.5 491.6,137.6 484.6,133.0"/>
<polygon fill="url(#rb6)" points="464.6,139.9 471.6,144.5 471.6,141.0 464.6,136.4"/>
<polygon fill="url(#ra2)" points="471.6,144.5 481.6,142.5 481.6,139.0 471.6,141.0"/>
<polygon fill="#6300ff" points="464.6,136.4 471.6,141.0 481.6,139.0 474.6,134.4"/>
<polygon fill="url(#rb5)" points="454.7,141.8 461.7,146.4 461.7,141.9 454.7,137.3"/>
<polygon fill="url(#ra2)" points="461.7,146.4 471.6,144.5 471.6,140.0 461.7,141.9"/>
<polygon fill="#3300ff" points="454.7,137.3 461.7,141.9 471.6,140.0 464.6,135.4"/>
<polygon fill="url(#rb4)" points="444.8,143.7 451.8,148.3 451.8,142.8 444.8,138.2"/>
<polygon fill="url(#ra2)" points="451.8,148.3 461.7,146.4 461.7,140.9 451.8,142.8"/>
<polygon fill="#3300ff" points="444.8,138.2 451.8,142.8 461.7,140.9 454.7,136.3"/>
<polygon fill="url(#rb3)" points="434.9,145.6 441.9,150.2 441.9,143.2 434.9,138.6"/>
<polygon fill="url(#ra2)" points="441.9,150.2 451.8,148.3 451.8,141.3 441.9,143.2"/>
<polygon fill="#3300ff" points="434.9,138.6 441.9,143.2 451.8,141.3 444.8,136.7"/>
<polygon fill="url(#rb2)" points="425.1,147.5 432.1,152.1 432.1,142.6 425.1,138.0"/>
<polygon fill="url(#ra2)" points="432.1,152.1 441.9,150.2 441.9,140.7 432.1,142.6"/>
<polygon fill="#0014ff" points="425.1,138.0 432.1,142.6 441.9,140.7 434.9,136.1"/>
<polygon fill="url(#rb1)" points="415.3,149.4 422.3,154.0 422.3,142.0 415.3,137.4"/>
<polygon fill="url(#ra2)" points="422.3,154.0 432.1,152.1 432.1,140.1 422.3,142.0"/>
<polygon fill="#0014ff" points="415.3,137.4 422.3,142.0 432.1,140.1 425.1,135.5"/>
<polygon fill="url(#rb0)" points="405.5,151.3 412.5,155.9 412.5,139.9 405.5,135.3"/>
<polygon fill="url(#ra2)" points="412.5,155.9 422.3,154.0 422.3,138.0 412.5,139.9"/>
<polygon fill="#0044ff" points="405.5,135.3 412.5,139.9 422.3,138.0 415.3,133.4"/>
<polygon fill="url(#rb17)" points="583.2,122.8 597.2,132.1 597.2,127.6 583.2,118.3"/>
<polygon fill="url(#ra3)" points="597.2,132.1 607.5,130.1 607.5,125.6 597.2,127.6"/>
<polygon fill="#3300ff" points="583.2,118.3 597.2,127.6 607.5,125.6 593.5,116.3"/>
<polygon fill="url(#rb16)" points="572.8,124.8 586.8,134.1 586.8,128.7 572.8,119.4"/>
<polygon fill="url(#ra3)" points="586.8,134.1 597.2,132.1 597.2,126.7 586.8,128.7"/>
<polygon fill="#3300ff" points="572.8,119.4 586.8,128.7 597.2,126.7 583.2,117.4"/>
<polygon fill="url(#rb15)" points="562.6,126.8 576.6,136.1 576.6,131.1 562.6,121.8"/>
<polygon fill="url(#ra3)" points="576.6,136.1 586.8,134.1 586.8,129.1 576.6,131.1"/>
<polygon fill="#3300ff" points="562.6,121.8 576.6,131.1 586.8,129.1 572.8,119.8"/>
<polygon fill="url(#rb14)" points="552.3,128.8 566.3,138.1 566.3,133.6 552.3,124.3"/>
<polygon fill="url(#ra3)" points="566.3,138.1 576.6,136.1 576.6,131.6 566.3,133.6"/>
<polygon fill="#3300ff" points="552.3,124.3 566.3,133.6 576.6,131.6 562.6,122.3"/>
<polygon fill="url(#rb13)" points="542.1,130.8 556.1,140.1 556.1,136.6 542.1,127.3"/>
<polygon fill="url(#ra3)" points="556.1,140.1 566.3,138.1 566.3,134.6 556.1,136.6"/>
<polygon fill="#6300ff" points="542.1,127.3 556.1,136.6 566.3,134.6 552.3,125.3"/>
<polygon fill="url(#rb12)" points="531.9,132.8 545.9,142.0 545.9,139.0 531.9,129.8"/>
<polygon fill="url(#ra3)" points="545.9,142.0 556.1,140.1 556.1,137.1 545.9,139.0"/>
<polygon fill="#6300ff" points="531.9,129.8 545.9,139.0 556.1,137.1 542.1,127.8"/>
<polygon fill="url(#rb11)" points="521.8,134.7 535.8,144.0 535.8,142.3 521.8,133.1"/>
<polygon fill="url(#ra3)" points="535.8,144.0 545.9,142.0 545.9,140.3 535.8,142.3"/>
<polygon fill="#6300ff" points="521.8,133.1 535.8,142.3 545.9,140.3 531.9,131.1"/>
<polygon fill="url(#rb10)" points="511.7,136.7 525.7,146.0 525.7,144.2 511.7,135.0"/>
<polygon fill="url(#ra3)" points="525.7,146.0 535.8,144.0 535.8,142.3 525.7,144.2"/>
<polygon fill="#6300ff" points="511.7,135.0 525.7,144.2 535.8,142.3 521.8,133.0"/>
<polygon fill="url(#rb9)" points="501.6,138.7 515.6,147.9 515.6,146.5 501.6,137.3"/>
<polygon fill="url(#ra3)" points="515.6,147.9 525.7,146.0 525.7,144.5 515.6,146.5"/>
<polygon fill="#6300ff" points="501.6,137.3 515.6,146.5 525.7,144.5 511.7,135.3"/>
<polygon fill="url(#rb8)" points="491.6,140.6 505.6,149.8 505.6,148.1 491.6,138.9"/>
<polygon fill="url(#ra3)" points="505.6,149.8 515.6,147.9 515.6,146.2 505.6,148.1"/>
<polygon fill="#6300ff" points="491.6,138.9 505.6,148.1 515.6,146.2 501.6,136.9"/>
<polygon fill="url(#rb7)" points="481.6,142.5 495.6,151.8 495.6,149.2 481.6,139.9"/>
<polygon fill="url(#ra3)" points="495.6,151.8 505.6,149.8 505.6,147.2 495.6,149.2"/>
<polygon fill="#6300ff" points="481.6,139.9 495.6,149.2 505.6,147.2 491.6,138.0"/>
<polygon fill="url(#rb6)" points="471.6,144.5 485.6,153.7 485.6,150.7 471.6,141.5"/>
<polygon fill="url(#ra3)" points="485.6,153.7 495.6,151.8 495.6,148.8 485.6,150.7"/>
<polygon fill="#6300ff" points="471.6,141.5 485.6,150.7 495.6,148.8 481.6,139.5"/>
<polygon fill="url(#rb5)" points="461.7,146.4 475.7,155.6 475.7,152.1 461.7,142.9"/>
<polygon fill="url(#ra3)" points="475.7,155.6 485.6,153.7 485.6,150.2 475.7,152.1"/>
<polygon fill="#6300ff" points="461.7,142.9 475.7,152.1 485.6,150.2 471.6,141.0"/>
<polygon fill="url(#rb4)" points="451.8,148.3 465.8,157.6 465.8,153.1 451.8,143.8"/>
<polygon fill="url(#ra3)" points="465.8,157.6 475.7,155.6 475.7,151.1 465.8,153.1"/>
<polygon fill="#3300ff" points="451.8,143.8 465.8,153.1 475.7,151.1 461.7,141.9"/>
<polygon fill="url(#rb3)" points="441.9,150.2 455.9,159.5 455.9,154.0 441.9,144.7"/>
<polygon fill="url(#ra3)" points="455.9,159.5 465.8,157.6 465.8,152.1 455.9,154.0"/>
<polygon fill="#3300ff" points="441.9,144.7 455.9,154.0 465.8,152.1 451.8,142.8"/>
<polygon fill="url(#rb2)" points="432.1,152.1 446.1,161.4 446.1,153.9 432.1,144.6"/>
<polygon fill="url(#ra3)" points="446.1,161.4 455.9,159.5 455.9,152.0 446.1,153.9"/>
<polygon fill="#3300ff" points="432.1,144.6 446.1,153.9 455.9,152.0 441.9,142.7"/>
<polygon fill="url(#rb1)" points="422.3,154.0 436.3,163.3 436.3,152.8 422.3,143.5"/>
<polygon fill="url(#ra3)" points="436.3,163.3 446.1,161.4 446.1,150.9 436.3,152.8"/>
<polygon fill="#0014ff" points="422.3,143.5 436.3,152.8 446.1,150.9 432.1,141.6"/>
<polygon fill="url(#rb0)" points="412.5,155.9 426.5,165.2 426.5,148.2 412.5,138.9"/>
<polygon fill="url(#ra3)" points="426.5,165.2 436.3,163.3 436.3,146.3 426.5,148.2"/>
<polygon fill="#008bff" points="412.5,138.9 426.5,148.2 436.3,146.3 422.3,137.0"/>
<polygon fill="url(#rb17)" points="597.2,132.1 611.2,141.3 611.2,138.3 597.2,129.1"/>
<polygon fill="url(#ra4)" points="611.2,141.3 621.5,139.3 621.5,136.3 611.2,138.3"/>
<polygon fill="#6300ff" points="597.2,129.1 611.2,138.3 621.5,136.3 607.5,127.1"/>
<polygon fill="url(#rb16)" points="586.8,134.1 600.8,143.3 600.8,139.8 586.8,130.6"/>
<polygon fill="url(#ra4)" points="600.8,143.3 611.2,141.3 611.2,137.8 600.8,139.8"/>
<polygon fill="#6300ff" points="586.8,130.6 600.8,139.8 611.2,137.8 597.2,128.6"/>
<polygon fill="url(#rb15)" points="576.6,136.1 590.6,145.3 590.6,142.1 576.6,132.9"/>
<polygon fill="url(#ra4)" points="590.6,145.3 600.8,143.3 600.8,140.1 590.6,142.1"/>
<polygon fill="#6300ff" points="576.6,132.9 590.6,142.1 600.8,140.1 586.8,130.9"/>
<polygon fill="url(#rb14)" points="566.3,138.1 580.3,147.3 580.3,144.3 566.3,135.1"/>
<polygon fill="url(#ra4)" points="580.3,147.3 590.6,145.3 590.6,142.3 580.3,144.3"/>
<polygon fill="#6300ff" points="566.3,135.1 580.3,144.3 590.6,142.3 576.6,133.1"/>
<polygon fill="url(#rb13)" points="556.1,140.1 570.1,149.3 570.1,148.2 556.1,139.0"/>
<polygon fill="url(#ra4)" points="570.1,149.3 580.3,147.3 580.3,146.2 570.1,148.2"/>
<polygon fill="#6300ff" points="556.1,139.0 570.1,148.2 580.3,146.2 566.3,137.0"/>
<polygon fill="url(#rb12)" points="545.9,142.0 559.9,151.3 559.9,149.9 545.9,140.6"/>
<polygon fill="url(#ra4)" points="559.9,151.3 570.1,149.3 570.1,147.9 559.9,149.9"/>
<polygon fill="#6300ff" points="545.9,140.6 559.9,149.9 570.1,147.9 556.1,138.6"/>
<polygon fill="url(#rb11)" points="535.8,144.0 549.8,153.2 549.8,151.6 535.8,142.4"/>
<polygon fill="url(#ra4)" points="549.8,153.2 559.9,151.3 559.9,149.7 549.8,151.6"/>
<polygon fill="#6300ff" points="535.8,142.4 549.8,151.6 559.9,149.7 545.9,140.4"/>
<polygon fill="url(#rb10)" points="525.7,146.0 539.7,155.2 539.7,153.6 525.7,144.4"/>
<polygon fill="url(#ra4)" points="539.7,155.2 549.8,153.2 549.8,151.6 539.7,153.6"/>
<polygon fill="#6300ff" points="525.7,144.4 539.7,153.6 549.8,151.6 535.8,142.4"/>
<polygon fill="url(#rb9)" points="515.6,147.9 529.6,157.1 529.6,155.5 515.6,146.3"/>
<polygon fill="url(#ra4)" points="529.6,157.1 539.7,155.2 539.7,153.6 529.6,155.5"/>
<polygon fill="#6300ff" points="515.6,146.3 529.6,155.5 539.7,153.6 525.7,144.3"/>
<polygon fill="url(#rb8)" points="505.6,149.8 519.6,159.1 519.6,157.6 505.6,148.4"/>
<polygon fill="url(#ra4)" points="519.6,159.1 529.6,157.1 529.6,155.7 519.6,157.6"/>
<polygon fill="#6300ff" points="505.6,148.4 519.6,157.6 529.6,155.7 515.6,146.4"/>
<polygon fill="url(#rb7)" points="495.6,151.8 509.6,161.0 509.6,158.8 495.6,149.6"/>
<polygon fill="url(#ra4)" points="509.6,161.0 519.6,159.1 519.6,156.9 509.6,158.8"/>
<polygon fill="#6300ff" points="495.6,149.6 509.6,158.8 519.6,156.9 505.6,147.6"/>
<polygon fill="url(#rb6)" points="485.6,153.7 499.6,163.0 499.6,160.6 485.6,151.3"/>
<polygon fill="url(#ra4)" points="499.6,163.0 509.6,161.0 509.6,158.6 499.6,160.6"/>
<polygon fill="#6300ff" points="485.6,151.3 499.6,160.6 509.6,158.6 495.6,149.4"/>
<polygon fill="url(#rb5)" points="475.7,155.6 489.7,164.9 489.7,162.3 475.7,153.0"/>
<polygon fill="url(#ra4)" points="489.7,164.9 499.6,163.0 499.6,160.4 489.7,162.3"/>
<polygon fill="#6300ff" points="475.7,153.0 489.7,162.3 499.6,160.4 485.6,151.1"/>
<polygon fill="url(#rb4)" points="465.8,157.6 479.8,166.8 479.8,163.8 465.8,154.6"/>
<polygon fill="url(#ra4)" points="479.8,166.8 489.7,164.9 489.7,161.9 479.8,163.8"/>
<polygon fill="#6300ff" points="465.8,154.6 479.8,163.8 489.7,161.9 475.7,152.6"/>
<polygon fill="url(#rb3)" points="455.9,159.5 469.9,168.7 469.9,165.1 455.9,155.9"/>
<polygon fill="url(#ra4)" points="469.9,168.7 479.8,166.8 479.8,163.2 469.9,165.1"/>
<polygon fill="#6300ff" points="455.9,155.9 469.9,165.1 479.8,163.2 465.8,154.0"/>
<polygon fill="url(#rb2)" points="446.1,161.4 460.1,170.6 460.1,166.4 446.1,157.2"/>
<polygon fill="url(#ra4)" points="460.1,170.6 469.9,168.7 469.9,164.5 460.1,166.4"/>
<polygon fill="#3300ff" points="446.1,157.2 460.1,166.4 469.9,164.5 455.9,155.3"/>
<polygon fill="url(#rb1)" points="436.3,163.3 450.3,172.5 450.3,167.5 436.3,158.3"/>
<polygon fill="url(#ra4)" points="450.3,172.5 460.1,170.6 460.1,165.6 450.3,167.5"/>
<polygon fill="#3300ff" points="436.3,158.3 450.3,167.5 460.1,165.6 446.1,156.4"/>
<polygon fill="url(#rb0)" points="426.5,165.2 440.5,174.4 440.5,168.4 426.5,159.2"/>
<polygon fill="url(#ra4)" points="440.5,174.4 450.3,172.5 450.3,166.5 440.5,168.4"/>
<polygon fill="#3300ff" points="426.5,159.2 440.5,168.4 450.3,166.5 436.3,157.3"/>
<polygon fill="url(#rb17)" points="611.2,141.3 625.2,150.6 625.2,149.1 611.2,139.9"/>
<polygon fill="url(#ra5)" points="625.2,150.6 635.5,148.6 635.5,147.1 625.2,149.1"/>
<polygon fill="#6300ff" points="611.2,139.9 625.2,149.1 635.5,147.1 621.5,137.9"/>
<polygon fill="url(#rb16)" points="600.8,143.3 614.8,152.6 614.8,151.1 600.8,141.9"/>
<polygon fill="url(#ra5)" points="614.8,152.6 625.2,150.6 625.2,149.1 614.8,151.1"/>
<polygon fill="#6300ff" points="600.8,141.9 614.8,151.1 625.2,149.1 611.2,139.9"/>
<polygon fill="url(#rb15)" points="590.6,145.3 604.6,154.6 604.6,153.0 590.6,143.8"/>
<polygon fill="url(#ra5)" points="604.6,154.6 614.8,152.6 614.8,151.0 604.6,153.0"/>
<polygon fill="#6300ff" points="590.6,143.8 604.6,153.0 614.8,151.0 600.8,141.8"/>
<polygon fill="url(#rb14)" points="580.3,147.3 594.3,156.6 594.3,155.1 580.3,145.9"/>
<polygon fill="url(#ra5)" points="594.3,156.6 604.6,154.6 604.6,153.1 594.3,155.1"/>
<polygon fill="#6300ff" points="580.3,145.9 594.3,155.1 604.6,153.1 590.6,143.9"/>
<polygon fill="url(#rb13)" points="570.1,149.3 584.1,158.5 584.1,157.5 570.1,148.2"/>
<polygon fill="url(#ra5)" points="584.1,158.5 594.3,156.6 594.3,155.5 584.1,157.5"/>
<polygon fill="#6300ff" points="570.1,148.2 584.1,157.5 594.3,155.5 580.3,146.2"/>
<polygon fill="url(#rb12)" points="559.9,151.3 573.9,160.5 573.9,159.0 559.9,149.8"/>
<polygon fill="url(#ra5)" points="573.9,160.5 584.1,158.5 584.1,157.1 573.9,159.0"/>
<polygon fill="#6300ff" points="559.9,149.8 573.9,159.0 584.1,157.1 570.1,147.8"/>
<polygon fill="url(#rb11)" points="549.8,153.2 563.8,162.5 563.8,161.2 549.8,151.9"/>
<polygon fill="url(#ra5)" points="563.8,162.5 573.9,160.5 573.9,159.2 563.8,161.2"/>
<polygon fill="#6300ff" points="549.8,151.9 563.8,161.2 573.9,159.2 559.9,150.0"/>
<polygon fill="url(#rb10)" points="539.7,155.2 553.7,164.4 553.7,163.3 539.7,154.1"/>
<polygon fill="url(#ra5)" points="553.7,164.4 563.8,162.5 563.8,161.4 553.7,163.3"/>
<polygon fill="#6300ff" points="539.7,154.1 553.7,163.3 563.8,161.4 549.8,152.1"/>
<polygon fill="url(#rb9)" points="529.6,157.1 543.6,166.4 543.6,165.2 529.6,156.0"/>
<polygon fill="url(#ra5)" points="543.6,166.4 553.7,164.4 553.7,163.2 543.6,165.2"/>
<polygon fill="#6300ff" points="529.6,156.0 543.6,165.2 553.7,163.2 539.7,154.0"/>
<polygon fill="url(#rb8)" points="519.6,159.1 533.6,168.3 533.6,166.9 519.6,157.6"/>
<polygon fill="url(#ra5)" points="533.6,168.3 543.6,166.4 543.6,164.9 533.6,166.9"/>
<polygon fill="#6300ff" points="519.6,157.6 533.6,166.9 543.6,164.9 529.6,155.7"/>
<polygon fill="url(#rb7)" points="509.6,161.0 523.6,170.3 523.6,168.3 509.6,159.0"/>
<polygon fill="url(#ra5)" points="523.6,170.3 533.6,168.3 533.6,166.3 523.6,168.3"/>
<polygon fill="#6300ff" points="509.6,159.0 523.6,168.3 533.6,166.3 519.6,157.1"/>
<polygon fill="url(#rb6)" points="499.6,163.0 513.6,172.2 513.6,170.2 499.6,161.0"/>
<polygon fill="url(#ra5)" points="513.6,172.2 523.6,170.3 523.6,168.3 513.6,170.2"/>
<polygon fill="#6300ff" points="499.6,161.0 513.6,170.2 523.6,168.3 509.6,159.0"/>
<polygon fill="url(#rb5)" points="489.7,164.9 503.7,174.1 503.7,171.9 489.7,162.7"/>
<polygon fill="url(#ra5)" points="503.7,174.1 513.6,172.2 513.6,170.0 503.7,171.9"/>
<polygon fill="#6300ff" points="489.7,162.7 503.7,171.9 513.6,170.0 499.6,160.8"/>
<polygon fill="url(#rb4)" points="479.8,166.8 493.8,176.1 493.8,173.7 479.8,164.4"/>
<polygon fill="url(#ra5)" points="493.8,176.1 503.7,174.1 503.7,171.7 493.8,173.7"/>
<polygon fill="#6300ff" points="479.8,164.4 493.8,173.7 503.7,171.7 489.7,162.5"/>
<polygon fill="url(#rb3)" points="469.9,168.7 483.9,178.0 483.9,175.4 469.9,166.1"/>
<polygon fill="url(#ra5)" points="483.9,178.0 493.8,176.1 493.8,173.5 483.9,175.4"/>
<polygon fill="#6300ff" points="469.9,166.1 483.9,175.4 493.8,173.5 479.8,164.2"/>
<polygon fill="url(#rb2)" points="460.1,170.6 474.1,179.9 474.1,177.1 460.1,167.8"/>
<polygon fill="url(#ra5)" points="474.1,179.9 483.9,178.0 483.9,175.2 474.1,177.1"/>
<polygon fill="#6300ff" points="460.1,167.8 474.1,177.1 483.9,175.2 469.9,165.9"/>
<polygon fill="url(#rb1)" points="450.3,172.5 464.3,181.8 464.3,178.8 450.3,169.5"/>
<polygon fill="url(#ra5)" points="464.3,181.8 474.1,179.9 474.1,176.9 464.3,178.8"/>
<polygon fill="#6300ff" points="450.3,169.5 464.3,178.8 474.1,176.9 460.1,167.6"/>
<polygon fill="url(#rb0)" points="440.5,174.4 454.5,183.7 454.5,180.2 440.5,170.9"/>
<polygon fill="url(#ra5)" points="454.5,183.7 464.3,181.8 464.3,178.3 454.5,180.2"/>
<polygon fill="#6300ff" points="440.5,170.9 454.5,180.2 464.3,178.3 450.3,169.0"/>
<polygon fill="url(#rb17)" points="625.2,150.6 639.2,159.8 639.2,158.9 625.2,149.6"/>
<polygon fill="url(#ra6)" points="639.2,159.8 649.5,157.8 649.5,156.9 639.2,158.9"/>
<polygon fill="#6300ff" points="625.2,149.6 639.2,158.9 649.5,156.9 635.5,147.6"/>
<polygon fill="url(#rb16)" points="614.8,152.6 628.8,161.8 628.8,160.4 614.8,151.2"/>
<polygon fill="url(#ra6)" points="628.8,161.8 639.2,159.8 639.2,158.4 628.8,160.4"/>
<polygon fill="#6300ff" points="614.8,151.2 628.8,160.4 639.2,158.4 625.2,149.2"/>
<polygon fill="url(#rb15)" points="604.6,154.6 618.6,163.8 618.6,162.3 604.6,153.1"/>
<polygon fill="url(#ra6)" points="618.6,163.8 628.8,161.8 628.8,160.3 618.6,162.3"/>
<polygon fill="#6300ff" points="604.6,153.1 618.6,162.3 628.8,160.3 614.8,151.1"/>
<polygon fill="url(#rb14)" points="594.3,156.6 608.3,165.8 608.3,164.9 594.3,155.6"/>
<polygon fill="url(#ra6)" points="608.3,165.8 618.6,163.8 618.6,162.9 608.3,164.9"/>
<polygon fill="#6300ff" points="594.3,155.6 608.3,164.9 618.6,162.9 604.6,153.6"/>
<polygon fill="url(#rb13)" points="584.1,158.5 598.1,167.8 598.1,166.8 584.1,157.6"/>
<polygon fill="url(#ra6)" points="598.1,167.8 608.3,165.8 608.3,164.8 598.1,166.8"/>
<polygon fill="#6300ff" points="584.1,157.6 598.1,166.8 608.3,164.8 594.3,155.6"/>
<polygon fill="url(#rb12)" points="573.9,160.5 587.9,169.8 587.9,168.8 573.9,159.5"/>
<polygon fill="url(#ra6)" points="587.9,169.8 598.1,167.8 598.1,166.8 587.9,168.8"/>
<polygon fill="#6300ff" points="573.9,159.5 587.9,168.8 598.1,166.8 584.1,157.6"/>
<polygon fill="url(#rb11)" points="563.8,162.5 577.8,171.7 577.8,170.8 563.8,161.5"/>
<polygon fill="url(#ra6)" points="577.8,171.7 587.9,169.8 587.9,168.8 577.8,170.8"/>
<polygon fill="#6300ff" points="563.8,161.5 577.8,170.8 587.9,168.8 573.9,159.6"/>
<polygon fill="url(#rb10)" points="553.7,164.4 567.7,173.7 567.7,172.8 553.7,163.5"/>
<polygon fill="url(#ra6)" points="567.7,173.7 577.8,171.7 577.8,170.8 567.7,172.8"/>
<polygon fill="#6300ff" points="553.7,163.5 567.7,172.8 577.8,170.8 563.8,161.6"/>
<polygon fill="url(#rb9)" points="543.6,166.4 557.6,175.6 557.6,174.3 543.6,165.0"/>
<polygon fill="url(#ra6)" points="557.6,175.6 567.7,173.7 567.7,172.3 557.6,174.3"/>
<polygon fill="#6300ff" points="543.6,165.0 557.6,174.3 567.7,172.3 553.7,163.1"/>
<polygon fill="url(#rb8)" points="533.6,168.3 547.6,177.6 547.6,176.4 533.6,167.2"/>
<polygon fill="url(#ra6)" points="547.6,177.6 557.6,175.6 557.6,174.4 547.6,176.4"/>
<polygon fill="#6300ff" points="533.6,167.2 547.6,176.4 557.6,174.4 543.6,165.2"/>
<polygon fill="url(#rb7)" points="523.6,170.3 537.6,179.5 537.6,178.4 523.6,169.1"/>
<polygon fill="url(#ra6)" points="537.6,179.5 547.6,177.6 547.6,176.4 537.6,178.4"/>
<polygon fill="#6300ff" points="523.6,169.1 537.6,178.4 547.6,176.4 533.6,167.2"/>
<polygon fill="url(#rb6)" points="513.6,172.2 527.6,181.5 527.6,180.2 513.6,171.0"/>
<polygon fill="url(#ra6)" points="527.6,181.5 537.6,179.5 537.6,178.3 527.6,180.2"/>
<polygon fill="#6300ff" points="513.6,171.0 527.6,180.2 537.6,178.3 523.6,169.1"/>
<polygon fill="url(#rb5)" points="503.7,174.1 517.7,183.4 517.7,182.3 503.7,173.1"/>
<polygon fill="url(#ra6)" points="517.7,183.4 527.6,181.5 527.6,180.4 517.7,182.3"/>
<polygon fill="#6300ff" points="503.7,173.1 517.7,182.3 527.6,180.4 513.6,171.1"/>
<polygon fill="url(#rb4)" points="493.8,176.1 507.8,185.3 507.8,184.2 493.8,175.0"/>
<polygon fill="url(#ra6)" points="507.8,185.3 517.7,183.4 517.7,182.3 507.8,184.2"/>
<polygon fill="#6300ff" points="493.8,175.0 507.8,184.2 517.7,182.3 503.7,173.1"/>
<polygon fill="url(#rb3)" points="483.9,178.0 497.9,187.2 497.9,186.3 483.9,177.0"/>
<polygon fill="url(#ra6)" points="497.9,187.2 507.8,185.3 507.8,184.4 497.9,186.3"/>
<polygon fill="#6300ff" points="483.9,177.0 497.9,186.3 507.8,184.4 493.8,175.1"/>
<polygon fill="url(#rb2)" points="474.1,179.9 488.1,189.1 488.1,187.7 474.1,178.5"/>
<polygon fill="url(#ra6)" points="488.1,189.1 497.9,187.2 497.9,185.8 488.1,187.7"/>
<polygon fill="#6300ff" points="474.1,178.5 488.1,187.7 497.9,185.8 483.9,176.6"/>
<polygon fill="url(#rb1)" points="464.3,181.8 478.3,191.0 478.3,189.7 464.3,180.5"/>
<polygon fill="url(#ra6)" points="478.3,191.0 488.1,189.1 488.1,187.8 478.3,189.7"/>
<polygon fill="#6300ff" points="464.3,180.5 478.3,189.7 488.1,187.8 474.1,178.6"/>
<polygon fill="url(#rb0)" points="454.5,183.7 468.5,192.9 468.5,192.0 454.5,182.8"/>
<polygon fill="url(#ra6)" points="468.5,192.9 478.3,191.0 478.3,190.1 468.5,192.0"/>
<polygon fill="#6300ff" points="454.5,182.8 468.5,192.0 478.3,190.1 464.3,180.9"/>
<polygon fill="url(#rb17)" points="639.2,159.8 653.2,169.1 653.2,167.8 639.2,158.5"/>
<polygon fill="url(#ra7)" points="653.2,169.1 663.5,167.1 663.5,165.8 653.2,167.8"/>
<polygon fill="#6300ff" points="639.2,158.5 653.2,167.8 663.5,165.8 649.5,156.5"/>
<polygon fill="url(#rb16)" points="628.8,161.8 642.8,171.1 642.8,169.9 628.8,160.6"/>
<polygon fill="url(#ra7)" points="642.8,171.1 653.2,169.1 653.2,167.9 642.8,169.9"/>
<polygon fill="#6300ff" points="628.8,160.6 642.8,169.9 653.2,167.9 639.2,158.6"/>
<polygon fill="url(#rb15)" points="618.6,163.8 632.6,173.1 632.6,172.0 618.6,162.8"/>
<polygon fill="url(#ra7)" points="632.6,173.1 642.8,171.1 642.8,170.0 632.6,172.0"/>
<polygon fill="#6300ff" points="618.6,162.8 632.6,172.0 642.8,170.0 628.8,160.8"/>
<polygon fill="url(#rb14)" points="608.3,165.8 622.3,175.0 622.3,174.1 608.3,164.9"/>
<polygon fill="url(#ra7)" points="622.3,175.0 632.6,173.1 632.6,172.1 622.3,174.1"/>
<polygon fill="#6300ff" points="608.3,164.9 622.3,174.1 632.6,172.1 618.6,162.9"/>
<polygon fill="url(#rb13)" points="598.1,167.8 612.1,177.0 612.1,176.2 598.1,166.9"/>
<polygon fill="url(#ra7)" points="612.1,177.0 622.3,175.0 622.3,174.2 612.1,176.2"/>
<polygon fill="#6300ff" points="598.1,166.9 612.1,176.2 622.3,174.2 608.3,164.9"/>
<polygon fill="url(#rb12)" points="587.9,169.8 601.9,179.0 601.9,177.9 587.9,168.7"/>
<polygon fill="url(#ra7)" points="601.9,179.0 612.1,177.0 612.1,176.0 601.9,177.9"/>
<polygon fill="#6300ff" points="587.9,168.7 601.9,177.9 612.1,176.0 598.1,166.7"/>
<polygon fill="url(#rb11)" points="577.8,171.7 591.8,181.0 591.8,179.7 577.8,170.5"/>
<polygon fill="url(#ra7)" points="591.8,181.0 601.9,179.0 601.9,177.7 591.8,179.7"/>
<polygon fill="#6300ff" points="577.8,170.5 591.8,179.7 601.9,177.7 587.9,168.5"/>
<polygon fill="url(#rb10)" points="567.7,173.7 581.7,182.9 581.7,181.8 567.7,172.5"/>
<polygon fill="url(#ra7)" points="581.7,182.9 591.8,181.0 591.8,179.8 581.7,181.8"/>
<polygon fill="#6300ff" points="567.7,172.5 581.7,181.8 591.8,179.8 577.8,170.6"/>
<polygon fill="url(#rb9)" points="557.6,175.6 571.6,184.9 571.6,184.0 557.6,174.7"/>
<polygon fill="url(#ra7)" points="571.6,184.9 581.7,182.9 581.7,182.0 571.6,184.0"/>
<polygon fill="#6300ff" points="557.6,174.7 571.6,184.0 581.7,182.0 567.7,172.8"/>
<polygon fill="url(#rb8)" points="547.6,177.6 561.6,186.8 561.6,185.8 547.6,176.6"/>
<polygon fill="url(#ra7)" points="561.6,186.8 571.6,184.9 571.6,183.9 561.6,185.8"/>
<polygon fill="#6300ff" points="547.6,176.6 561.6,185.8 571.6,183.9 557.6,174.6"/>
<polygon fill="url(#rb7)" points="537.6,179.5 551.6,188.8 551.6,187.8 537.6,178.6"/>
<polygon fill="url(#ra7)" points="551.6,188.8 561.6,186.8 561.6,185.9 551.6,187.8"/>
<polygon fill="#6300ff" points="537.6,178.6 551.6,187.8 561.6,185.9 547.6,176.6"/>
<polygon fill="url(#rb6)" points="527.6,181.5 541.6,190.7 541.6,189.7 527.6,180.4"/>
<polygon fill="url(#ra7)" points="541.6,190.7 551.6,188.8 551.6,187.7 541.6,189.7"/>
<polygon fill="#6300ff" points="527.6,180.4 541.6,189.7 551.6,187.7 537.6,178.5"/>
<polygon fill="url(#rb5)" points="517.7,183.4 531.7,192.6 531.7,191.4 517.7,182.2"/>
<polygon fill="url(#ra7)" points="531.7,192.6 541.6,190.7 541.6,189.5 531.7,191.4"/>
<polygon fill="#6300ff" points="517.7,182.2 531.7,191.4 541.6,189.5 527.6,180.3"/>
<polygon fill="url(#rb4)" points="507.8,185.3 521.8,194.5 521.8,193.3 507.8,184.1"/>
<polygon fill="url(#ra7)" points="521.8,194.5 531.7,192.6 531.7,191.4 521.8,193.3"/>
<polygon fill="#6300ff" points="507.8,184.1 521.8,193.3 531.7,191.4 517.7,182.2"/>
<polygon fill="url(#rb3)" points="497.9,187.2 511.9,196.5 511.9,195.4 497.9,186.2"/>
<polygon fill="url(#ra7)" points="511.9,196.5 521.8,194.5 521.8,193.5 511.9,195.4"/>
<polygon fill="#6300ff" points="497.9,186.2 511.9,195.4 521.8,193.5 507.8,184.3"/>
<polygon fill="url(#rb2)" points="488.1,189.1 502.1,198.4 502.1,197.4 488.1,188.1"/>
<polygon fill="url(#ra7)" points="502.1,198.4 511.9,196.5 511.9,195.4 502.1,197.4"/>
<polygon fill="#6300ff" points="488.1,188.1 502.1,197.4 511.9,195.4 497.9,186.2"/>
<polygon fill="url(#rb1)" points="478.3,191.0 492.3,200.3 492.3,199.3 478.3,190.0"/>
<polygon fill="url(#ra7)" points="492.3,200.3 502.1,198.4 502.1,197.4 492.3,199.3"/>
<polygon fill="#6300ff" points="478.3,190.0 492.3,199.3 502.1,197.4 488.1,188.1"/>
<polygon fill="url(#rb0)" points="468.5,192.9 482.5,202.2 482.5,201.0 468.5,191.8"/>
<polygon fill="url(#ra7)" points="482.5,202.2 492.3,200.3 492.3,199.1 482.5,201.0"/>
<polygon fill="#6300ff" points="468.5,191.8 482.5,201.0 492.3,199.1 478.3,189.9"/>
<polygon fill="url(#rb17)" points="653.2,169.1 667.2,178.3 667.2,177.0 653.2,167.8"/>
<polygon fill="url(#ra8)" points="667.2,178.3 677.5,176.3 677.5,175.0 667.2,177.0"/>
<polygon fill="#6300ff" points="653.2,167.8 667.2,177.0 677.5,175.0 663.5,165.8"/>
<polygon fill="url(#rb16)" points="642.8,171.1 656.8,180.3 656.8,179.0 642.8,169.8"/>
<polygon fill="url(#ra8)" points="656.8,180.3 667.2,178.3 667.2,177.0 656.8,179.0"/>
<polygon fill="#6300ff" points="642.8,169.8 656.8,179.0 667.2,177.0 653.2,167.8"/>
<polygon fill="url(#rb15)" points="632.6,173.1 646.6,182.3 646.6,181.3 632.6,172.1"/>
<polygon fill="url(#ra8)" points="646.6,182.3 656.8,180.3 656.8,179.3 646.6,181.3"/>
<polygon fill="#6300ff" points="632.6,172.1 646.6,181.3 656.8,179.3 642.8,170.1"/>
<polygon fill="url(#rb14)" points="622.3,175.0 636.3,184.3 636.3,183.3 622.3,174.0"/>
<polygon fill="url(#ra8)" points="636.3,184.3 646.6,182.3 646.6,181.3 636.3,183.3"/>
<polygon fill="#6300ff" points="622.3,174.0 636.3,183.3 646.6,181.3 632.6,172.1"/>
<polygon fill="url(#rb13)" points="612.1,177.0 626.1,186.3 626.1,185.5 612.1,176.2"/>
<polygon fill="url(#ra8)" points="626.1,186.3 636.3,184.3 636.3,183.5 626.1,185.5"/>
<polygon fill="#6300ff" points="612.1,176.2 626.1,185.5 636.3,183.5 622.3,174.3"/>
<polygon fill="url(#rb12)" points="601.9,179.0 615.9,188.2 615.9,187.1 601.9,177.8"/>
<polygon fill="url(#ra8)" points="615.9,188.2 626.1,186.3 626.1,185.1 615.9,187.1"/>
<polygon fill="#6300ff" points="601.9,177.8 615.9,187.1 626.1,185.1 612.1,175.9"/>
<polygon fill="url(#rb11)" points="591.8,181.0 605.8,190.2 605.8,189.1 591.8,179.9"/>
<polygon fill="url(#ra8)" points="605.8,190.2 615.9,188.2 615.9,187.2 605.8,189.1"/>
<polygon fill="#6300ff" points="591.8,179.9 605.8,189.1 615.9,187.2 601.9,177.9"/>
<polygon fill="url(#rb10)" points="581.7,182.9 595.7,192.2 595.7,191.3 581.7,182.0"/>
<polygon fill="url(#ra8)" points="595.7,192.2 605.8,190.2 605.8,189.3 595.7,191.3"/>
<polygon fill="#6300ff" points="581.7,182.0 595.7,191.3 605.8,189.3 591.8,180.1"/>
<polygon fill="url(#rb9)" points="571.6,184.9 585.6,194.1 585.6,193.1 571.6,183.9"/>
<polygon fill="url(#ra8)" points="585.6,194.1 595.7,192.2 595.7,191.1 585.6,193.1"/>
<polygon fill="#6300ff" points="571.6,183.9 585.6,193.1 595.7,191.1 581.7,181.9"/>
<polygon fill="url(#rb8)" points="561.6,186.8 575.6,196.1 575.6,194.9 561.6,185.7"/>
<polygon fill="url(#ra8)" points="575.6,196.1 585.6,194.1 585.6,193.0 575.6,194.9"/>
<polygon fill="#6300ff" points="561.6,185.7 575.6,194.9 585.6,193.0 571.6,183.7"/>
<polygon fill="url(#rb7)" points="551.6,188.8 565.6,198.0 565.6,197.0 551.6,187.8"/>
<polygon fill="url(#ra8)" points="565.6,198.0 575.6,196.1 575.6,195.1 565.6,197.0"/>
<polygon fill="#6300ff" points="551.6,187.8 565.6,197.0 575.6,195.1 561.6,185.8"/>
<polygon fill="url(#rb6)" points="541.6,190.7 555.6,199.9 555.6,198.8 541.6,189.5"/>
<polygon fill="url(#ra8)" points="555.6,199.9 565.6,198.0 565.6,196.8 555.6,198.8"/>
<polygon fill="#6300ff" points="541.6,189.5 555.6,198.8 565.6,196.8 551.6,187.6"/>
<polygon fill="url(#rb5)" points="531.7,192.6 545.7,201.9 545.7,200.8 531.7,191.6"/>
<polygon fill="url(#ra8)" points="545.7,201.9 555.6,199.9 555.6,198.9 545.7,200.8"/>
<polygon fill="#6300ff" points="531.7,191.6 545.7,200.8 555.6,198.9 541.6,189.7"/>
<polygon fill="url(#rb4)" points="521.8,194.5 535.8,203.8 535.8,202.8 521.8,193.6"/>
<polygon fill="url(#ra8)" points="535.8,203.8 545.7,201.9 545.7,200.9 535.8,202.8"/>
<polygon fill="#6300ff" points="521.8,193.6 535.8,202.8 545.7,200.9 531.7,191.7"/>
<polygon fill="url(#rb3)" points="511.9,196.5 525.9,205.7 525.9,204.7 511.9,195.5"/>
<polygon fill="url(#ra8)" points="525.9,205.7 535.8,203.8 535.8,202.8 525.9,204.7"/>
<polygon fill="#6300ff" points="511.9,195.5 525.9,204.7 535.8,202.8 521.8,193.5"/>
<polygon fill="url(#rb2)" points="502.1,198.4 516.1,207.6 516.1,206.5 502.1,197.2"/>
<polygon fill="url(#ra8)" points="516.1,207.6 525.9,205.7 525.9,204.6 516.1,206.5"/>
<polygon fill="#6300ff" points="502.1,197.2 516.1,206.5 525.9,204.6 511.9,195.3"/>
<polygon fill="url(#rb1)" points="492.3,200.3 506.3,209.5 506.3,208.3 492.3,199.0"/>
<polygon fill="url(#ra8)" points="506.3,209.5 516.1,207.6 516.1,206.4 506.3,208.3"/>
<polygon fill="#6300ff" points="492.3,199.0 506.3,208.3 516.1,206.4 502.1,197.1"/>
<polygon fill="url(#rb0)" points="482.5,202.2 496.5,211.4 496.5,210.4 482.5,201.2"/>
<polygon fill="url(#ra8)" points="496.5,211.4 506.3,209.5 506.3,208.5 496.5,210.4"/>
<polygon fill="#6300ff" points="482.5,201.2 496.5,210.4 506.3,208.5 492.3,199.3"/>
</g>
<g stroke="#000" stroke-width="0.8" stroke-opacity="0.80" fill="none">
<line x1="398.5" y1="57.1" x2="496.5" y2="121.8" />
<line x1="496.5" y1="121.8" x2="677.5" y2="86.7" />
<line x1="496.5" y1="121.8" x2="496.5" y2="211.4" />
</g>
<g stroke="#000" stroke-width="1.0" fill="none">
<line x1="398.5" y1="146.7" x2="398.5" y2="57.1" />
<line x1="398.5" y1="146.7" x2="496.5" y2="211.4" stroke-width="0.5"/>
<line x1="496.5" y1="211.4" x2="677.5" y2="176.3" stroke-width="0.5"/>
<line x1="398.5" y1="146.7" x2="396.3" y2="146.7" stroke-width="0.6"/>
<line x1="398.5" y1="143.9" x2="396.3" y2="143.9" stroke-width="0.6"/>
<line x1="398.5" y1="141.1" x2="396.3" y2="141.1" stroke-width="0.6"/>
<line x1="398.5" y1="138.3" x2="396.3" y2="138.3" stroke-width="0.6"/>
<line x1="398.5" y1="135.5" x2="396.3" y2="135.5" stroke-width="0.6"/>
<line x1="398.5" y1="132.6" x2="396.3" y2="132.6" stroke-width="0.6"/>
<line x1="398.5" y1="129.8" x2="396.3" y2="129.8" stroke-width="0.6"/>
<line x1="398.5" y1="127.0" x2="396.3" y2="127.0" stroke-width="0.6"/>
<line x1="398.5" y1="124.2" x2="396.3" y2="124.2" stroke-width="0.6"/>
<line x1="398.5" y1="121.4" x2="396.3" y2="121.4" stroke-width="0.6"/>
<line x1="398.5" y1="118.6" x2="396.3" y2="118.6" stroke-width="0.6"/>
<line x1="398.5" y1="115.8" x2="396.3" y2="115.8" stroke-width="0.6"/>
<line x1="398.5" y1="113.0" x2="396.3" y2="113.0" stroke-width="0.6"/>
<line x1="398.5" y1="110.2" x2="396.3" y2="110.2" stroke-width="0.6"/>
<line x1="398.5" y1="107.4" x2="396.3" y2="107.4" stroke-width="0.6"/>
<line x1="398.5" y1="104.5" x2="396.3" y2="104.5" stroke-width="0.6"/>
<line x1="398.5" y1="101.7" x2="396.3" y2="101.7" stroke-width="0.6"/>
<line x1="398.5" y1="98.9" x2="396.3" y2="98.9" stroke-width="0.6"/>
<line x1="398.5" y1="96.1" x2="396.3" y2="96.1" stroke-width="0.6"/>
<line x1="398.5" y1="93.3" x2="396.3" y2="93.3" stroke-width="0.6"/>
<line x1="398.5" y1="90.5" x2="396.3" y2="90.5" stroke-width="0.6"/>
<line x1="398.5" y1="87.7" x2="396.3" y2="87.7" stroke-width="0.6"/>
<line x1="398.5" y1="84.9" x2="396.3" y2="84.9" stroke-width="0.6"/>
<line x1="398.5" y1="82.1" x2="396.3" y2="82.1" stroke-width="0.6"/>
<line x1="398.5" y1="79.3" x2="396.3" y2="79.3" stroke-width="0.6"/>
<line x1="398.5" y1="76.4" x2="396.3" y2="76.4" stroke-width="0.6"/>
<line x1="398.5" y1="73.6" x2="396.3" y2="73.6" stroke-width="0.6"/>
<line x1="398.5" y1="70.8" x2="396.3" y2="70.8" stroke-width="0.6"/>
<line x1="398.5" y1="68.0" x2="396.3" y2="68.0" stroke-width="0.6"/>
<line x1="398.5" y1="65.2" x2="396.3" y2="65.2" stroke-width="0.6"/>
<line x1="398.5" y1="62.4" x2="396.3" y2="62.4" stroke-width="0.6"/>
<line x1="398.5" y1="59.6" x2="396.3" y2="59.6" stroke-width="0.6"/>
<line x1="398.5" y1="146.7" x2="394.0" y2="146.7" stroke-width="0.9"/>
<line x1="398.5" y1="132.6" x2="394.0" y2="132.6" stroke-width="0.9"/>
<line x1="398.5" y1="118.6" x2="394.0" y2="118.6" stroke-width="0.9"/>
<line x1="398.5" y1="104.5" x2="394.0" y2="104.5" stroke-width="0.9"/>
<line x1="398.5" y1="90.5" x2="394.0" y2="90.5" stroke-width="0.9"/>
<line x1="398.5" y1="76.4" x2="394.0" y2="76.4" stroke-width="0.9"/>
<line x1="398.5" y1="62.4" x2="394.0" y2="62.4" stroke-width="0.9"/>
<line x1="398.5" y1="146.7" x2="395.4" y2="149.6" stroke-width="0.9"/>
<line x1="400.8" y1="148.2" x2="399.3" y2="149.6" stroke-width="0.6"/>
<line x1="403.1" y1="149.7" x2="401.6" y2="151.1" stroke-width="0.6"/>
<line x1="405.4" y1="151.2" x2="403.9" y2="152.6" stroke-width="0.6"/>
<line x1="407.7" y1="152.7" x2="406.2" y2="154.1" stroke-width="0.6"/>
<line x1="409.9" y1="154.3" x2="406.9" y2="157.2" stroke-width="0.9"/>
<line x1="412.2" y1="155.8" x2="410.8" y2="157.2" stroke-width="0.6"/>
<line x1="414.5" y1="157.3" x2="413.1" y2="158.7" stroke-width="0.6"/>
<line x1="416.8" y1="158.8" x2="415.3" y2="160.2" stroke-width="0.6"/>
<line x1="419.1" y1="160.3" x2="417.6" y2="161.7" stroke-width="0.6"/>
<line x1="421.4" y1="161.8" x2="418.3" y2="164.7" stroke-width="0.9"/>
<line x1="423.7" y1="163.3" x2="422.2" y2="164.7" stroke-width="0.6"/>
<line x1="426.0" y1="164.8" x2="424.5" y2="166.2" stroke-width="0.6"/>
<line x1="428.3" y1="166.4" x2="426.8" y2="167.7" stroke-width="0.6"/>
<line x1="430.6" y1="167.9" x2="429.1" y2="169.2" stroke-width="0.6"/>
<line x1="432.8" y1="169.4" x2="429.8" y2="172.3" stroke-width="0.9"/>
<line x1="435.1" y1="170.9" x2="433.7" y2="172.3" stroke-width="0.6"/>
<line x1="437.4" y1="172.4" x2="436.0" y2="173.8" stroke-width="0.6"/>
<line x1="439.7" y1="173.9" x2="438.2" y2="175.3" stroke-width="0.6"/>
<line x1="442.0" y1="175.4" x2="440.5" y2="176.8" stroke-width="0.6"/>
<line x1="444.3" y1="176.9" x2="441.2" y2="179.8" stroke-width="0.9"/>
<line x1="446.6" y1="178.4" x2="445.1" y2="179.8" stroke-width="0.6"/>
<line x1="448.9" y1="180.0" x2="447.4" y2="181.3" stroke-width="0.6"/>
<line x1="451.2" y1="181.5" x2="449.7" y2="182.9" stroke-width="0.6"/>
<line x1="453.5" y1="183.0" x2="452.0" y2="184.4" stroke-width="0.6"/>
<line x1="455.7" y1="184.5" x2="452.7" y2="187.4" stroke-width="0.9"/>
<line x1="458.0" y1="186.0" x2="456.6" y2="187.4" stroke-width="0.6"/>
<line x1="460.3" y1="187.5" x2="458.8" y2="188.9" stroke-width="0.6"/>
<line x1="462.6" y1="189.0" x2="461.1" y2="190.4" stroke-width="0.6"/>
<line x1="464.9" y1="190.5" x2="463.4" y2="191.9" stroke-width="0.6"/>
<line x1="467.2" y1="192.1" x2="464.1" y2="195.0" stroke-width="0.9"/>
<line x1="469.5" y1="193.6" x2="468.0" y2="194.9" stroke-width="0.6"/>
<line x1="471.8" y1="195.1" x2="470.3" y2="196.5" stroke-width="0.6"/>
<line x1="474.1" y1="196.6" x2="472.6" y2="198.0" stroke-width="0.6"/>
<line x1="476.4" y1="198.1" x2="474.9" y2="199.5" stroke-width="0.6"/>
<line x1="478.6" y1="199.6" x2="475.5" y2="202.5" stroke-width="0.9"/>
<line x1="480.9" y1="201.1" x2="479.5" y2="202.5" stroke-width="0.6"/>
<line x1="483.2" y1="202.6" x2="481.7" y2="204.0" stroke-width="0.6"/>
<line x1="485.5" y1="204.1" x2="484.0" y2="205.5" stroke-width="0.6"/>
<line x1="487.8" y1="205.7" x2="486.3" y2="207.0" stroke-width="0.6"/>
<line x1="490.1" y1="207.2" x2="487.0" y2="210.1" stroke-width="0.9"/>
<line x1="492.4" y1="208.7" x2="490.9" y2="210.1" stroke-width="0.6"/>
<line x1="494.7" y1="210.2" x2="493.2" y2="211.6" stroke-width="0.6"/>
<line x1="677.5" y1="176.3" x2="680.1" y2="179.9" stroke-width="0.9"/>
<line x1="671.7" y1="177.4" x2="673.0" y2="179.1" stroke-width="0.6"/>
<line x1="666.0" y1="178.5" x2="667.2" y2="180.3" stroke-width="0.6"/>
<line x1="660.2" y1="179.7" x2="661.5" y2="181.4" stroke-width="0.6"/>
<line x1="654.5" y1="180.8" x2="655.7" y2="182.5" stroke-width="0.6"/>
<line x1="648.7" y1="181.9" x2="651.3" y2="185.5" stroke-width="0.9"/>
<line x1="642.9" y1="183.0" x2="644.2" y2="184.7" stroke-width="0.6"/>
<line x1="637.2" y1="184.1" x2="638.4" y2="185.8" stroke-width="0.6"/>
<line x1="631.4" y1="185.2" x2="632.7" y2="187.0" stroke-width="0.6"/>
<line x1="625.6" y1="186.4" x2="626.9" y2="188.1" stroke-width="0.6"/>
<line x1="619.9" y1="187.5" x2="622.5" y2="191.1" stroke-width="0.9"/>
<line x1="614.1" y1="188.6" x2="615.4" y2="190.3" stroke-width="0.6"/>
<line x1="608.4" y1="189.7" x2="609.6" y2="191.4" stroke-width="0.6"/>
<line x1="602.6" y1="190.8" x2="603.9" y2="192.6" stroke-width="0.6"/>
<line x1="596.8" y1="191.9" x2="598.1" y2="193.7" stroke-width="0.6"/>
<line x1="591.1" y1="193.1" x2="593.7" y2="196.7" stroke-width="0.9"/>
<line x1="585.3" y1="194.2" x2="586.6" y2="195.9" stroke-width="0.6"/>
<line x1="579.6" y1="195.3" x2="580.8" y2="197.0" stroke-width="0.6"/>
<line x1="573.8" y1="196.4" x2="575.0" y2="198.1" stroke-width="0.6"/>
<line x1="568.0" y1="197.5" x2="569.3" y2="199.3" stroke-width="0.6"/>
<line x1="562.3" y1="198.6" x2="564.9" y2="202.3" stroke-width="0.9"/>
<line x1="556.5" y1="199.8" x2="557.8" y2="201.5" stroke-width="0.6"/>
<line x1="550.7" y1="200.9" x2="552.0" y2="202.6" stroke-width="0.6"/>
<line x1="545.0" y1="202.0" x2="546.2" y2="203.7" stroke-width="0.6"/>
<line x1="539.2" y1="203.1" x2="540.5" y2="204.8" stroke-width="0.6"/>
<line x1="533.5" y1="204.2" x2="536.1" y2="207.9" stroke-width="0.9"/>
<line x1="527.7" y1="205.3" x2="529.0" y2="207.1" stroke-width="0.6"/>
<line x1="521.9" y1="206.5" x2="523.2" y2="208.2" stroke-width="0.6"/>
<line x1="516.2" y1="207.6" x2="517.4" y2="209.3" stroke-width="0.6"/>
<line x1="510.4" y1="208.7" x2="511.7" y2="210.4" stroke-width="0.6"/>
<line x1="504.7" y1="209.8" x2="507.3" y2="213.4" stroke-width="0.9"/>
<line x1="498.9" y1="210.9" x2="500.1" y2="212.7" stroke-width="0.6"/>
</g>
<g font-size="11" fill="#111">
<text x="393.5" y="150.6" text-anchor="end">0</text>
<text x="393.5" y="136.5" text-anchor="end">100</text>
<text x="393.5" y="122.5" text-anchor="end">200</text>
<text x="393.5" y="108.4" text-anchor="end">300</text>
<text x="393.5" y="94.4" text-anchor="end">400</text>
<text x="393.5" y="80.3" text-anchor="end">500</text>
<text x="393.5" y="66.3" text-anchor="end">600</text>
<text x="389.9" y="156.2" text-anchor="end">0</text>
<text x="402.4" y="164.9" text-anchor="end">0.5</text>
<text x="415.7" y="173.4" text-anchor="end">1</text>
<text x="425.6" y="179.8" text-anchor="end">1.5</text>
<text x="436.9" y="188.5" text-anchor="end">2</text>
<text x="448.2" y="196.1" text-anchor="end">2.5</text>
<text x="459.7" y="202.7" text-anchor="end">3</text>
<text x="472.1" y="210.8" text-anchor="end">3.5</text>
<text x="482.6" y="220.2" text-anchor="end">4</text>
<text x="507.7" y="221.8" text-anchor="middle">3</text>
<text x="538.0" y="216.9" text-anchor="middle">2.5</text>
<text x="565.3" y="211.1" text-anchor="middle">2</text>
<text x="594.8" y="204.6" text-anchor="middle">1.5</text>
<text x="623.9" y="199.5" text-anchor="middle">1</text>
<text x="651.7" y="193.9" text-anchor="middle">0.5</text>
<text x="680.1" y="189.5" text-anchor="middle">0</text>
</g>
<g fill="#111">
<text x="66.7" y="11.2" font-size="11.5" font-weight="bold" font-style="italic" textLength="38.3">ATLAS</text>
<text x="424.7" y="11.2" font-size="11.5" font-weight="bold" font-style="italic" textLength="38.3">ATLAS</text>
<text transform="translate(191.3,11.2) scale(0.72,1)" font-size="11.5">√</text>
<line x1="195.5" y1="3.5" x2="201.9" y2="3.5" stroke="#111" stroke-width="0.8"/>
<text x="196.1" y="11.2" font-size="11.5" textLength="91.2">s = 8 TeV, 11.4 fb</text>
<text x="287.7" y="7" font-size="7.5">-1</text>
<text transform="translate(549.4,11.2) scale(0.72,1)" font-size="11.5">√</text>
<line x1="553.6" y1="3.5" x2="560.0" y2="3.5" stroke="#111" stroke-width="0.8"/>
<text x="554.2" y="11.2" font-size="11.5" textLength="91.2">s = 8 TeV, 11.4 fb</text>
<text x="645.8" y="7" font-size="7.5">-1</text>
<text transform="translate(11.8,99.8) rotate(-90)" font-size="12.3">Entries</text>
<text transform="translate(369.7,89.9) rotate(-90)" font-size="12.3">Entries</text>
<text transform="translate(149.5,229) rotate(18)" font-size="12"><tspan font-style="italic">Δy</tspan></text>
<text transform="translate(190.5,235) rotate(-17)" font-size="12">Δϕ</text>
<text transform="translate(461.5,221.5) rotate(33)" font-size="12"><tspan font-style="italic">Δy</tspan></text>
<text transform="translate(505.2,234.3) rotate(-4)" font-size="12">Δϕ</text>
<text x="172.7" y="257.8" font-size="13.6" font-weight="bold" font-family="'Liberation Serif', serif">(a)</text>
<text x="530.2" y="258" font-size="13.6" font-weight="bold" font-family="'Liberation Serif', serif">(b)</text>
</g>
</svg>
</body></html>
